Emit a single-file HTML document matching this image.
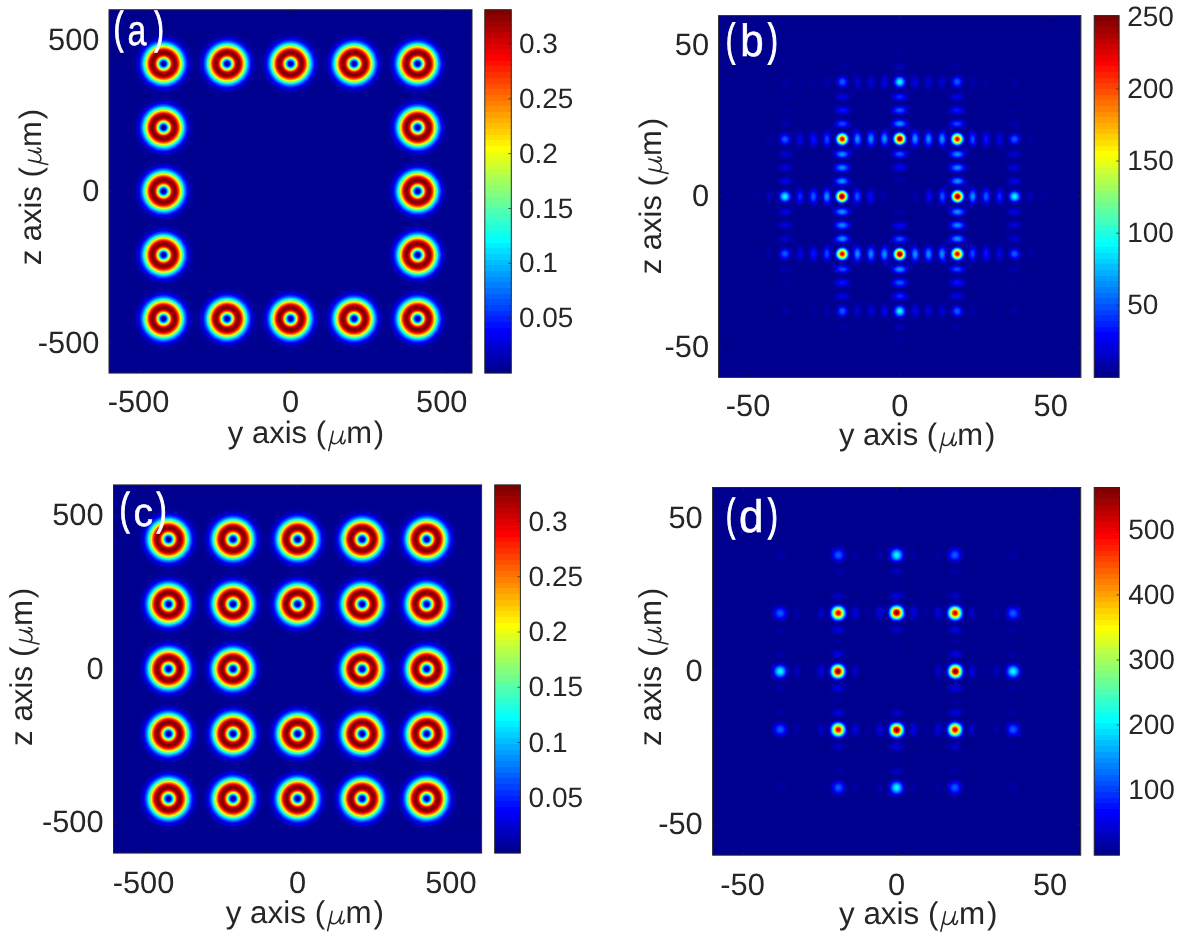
<!DOCTYPE html><html><head><meta charset="utf-8"><title>fig</title><style>html,body{margin:0;padding:0;background:#fff}svg{display:block;will-change:transform}text{text-rendering:geometricPrecision}</style></head><body><svg width="1179" height="938" viewBox="0 0 1179 938"><defs><filter id="jet" x="0" y="0" width="1" height="1" color-interpolation-filters="sRGB"><feComponentTransfer><feFuncR type="table" tableValues="0.0000 0.0000 0.0000 0.0000 0.0000 0.0000 0.0000 0.0000 0.0000 0.0000 0.0000 0.0000 0.0000 0.0000 0.0000 0.0000 0.0000 0.0000 0.0000 0.0000 0.0000 0.0000 0.0000 0.0000 0.0312 0.0938 0.1562 0.2188 0.2812 0.3438 0.4062 0.4688 0.5312 0.5938 0.6562 0.7188 0.7812 0.8438 0.9062 0.9688 1.0000 1.0000 1.0000 1.0000 1.0000 1.0000 1.0000 1.0000 1.0000 1.0000 1.0000 1.0000 1.0000 1.0000 1.0000 1.0000 0.9688 0.9062 0.8438 0.7812 0.7188 0.6562 0.5938 0.5312 0.5000"/><feFuncG type="table" tableValues="0.0000 0.0000 0.0000 0.0000 0.0000 0.0000 0.0000 0.0000 0.0312 0.0938 0.1562 0.2188 0.2812 0.3438 0.4062 0.4688 0.5312 0.5938 0.6562 0.7188 0.7812 0.8438 0.9062 0.9688 1.0000 1.0000 1.0000 1.0000 1.0000 1.0000 1.0000 1.0000 1.0000 1.0000 1.0000 1.0000 1.0000 1.0000 1.0000 1.0000 0.9688 0.9062 0.8438 0.7812 0.7188 0.6562 0.5938 0.5312 0.4688 0.4062 0.3438 0.2812 0.2188 0.1562 0.0938 0.0312 0.0000 0.0000 0.0000 0.0000 0.0000 0.0000 0.0000 0.0000 0.0000"/><feFuncB type="table" tableValues="0.5625 0.5938 0.6562 0.7188 0.7812 0.8438 0.9062 0.9688 1.0000 1.0000 1.0000 1.0000 1.0000 1.0000 1.0000 1.0000 1.0000 1.0000 1.0000 1.0000 1.0000 1.0000 1.0000 1.0000 0.9688 0.9062 0.8438 0.7812 0.7188 0.6562 0.5938 0.5312 0.4688 0.4062 0.3438 0.2812 0.2188 0.1562 0.0938 0.0312 0.0000 0.0000 0.0000 0.0000 0.0000 0.0000 0.0000 0.0000 0.0000 0.0000 0.0000 0.0000 0.0000 0.0000 0.0000 0.0000 0.0000 0.0000 0.0000 0.0000 0.0000 0.0000 0.0000 0.0000 0.0000"/></feComponentTransfer></filter><radialGradient id="dn"><stop offset="0.0000" stop-color="#fff" stop-opacity="0.0000"/><stop offset="0.0208" stop-color="#fff" stop-opacity="0.0113"/><stop offset="0.0417" stop-color="#fff" stop-opacity="0.0446"/><stop offset="0.0625" stop-color="#fff" stop-opacity="0.0983"/><stop offset="0.0833" stop-color="#fff" stop-opacity="0.1697"/><stop offset="0.1042" stop-color="#fff" stop-opacity="0.2554"/><stop offset="0.1250" stop-color="#fff" stop-opacity="0.3513"/><stop offset="0.1458" stop-color="#fff" stop-opacity="0.4529"/><stop offset="0.1667" stop-color="#fff" stop-opacity="0.5556"/><stop offset="0.1875" stop-color="#fff" stop-opacity="0.6551"/><stop offset="0.2083" stop-color="#fff" stop-opacity="0.7471"/><stop offset="0.2292" stop-color="#fff" stop-opacity="0.8282"/><stop offset="0.2500" stop-color="#fff" stop-opacity="0.8955"/><stop offset="0.2708" stop-color="#fff" stop-opacity="0.9469"/><stop offset="0.2917" stop-color="#fff" stop-opacity="0.9812"/><stop offset="0.3125" stop-color="#fff" stop-opacity="0.9980"/><stop offset="0.3333" stop-color="#fff" stop-opacity="0.9978"/><stop offset="0.3542" stop-color="#fff" stop-opacity="0.9816"/><stop offset="0.3750" stop-color="#fff" stop-opacity="0.9510"/><stop offset="0.3958" stop-color="#fff" stop-opacity="0.9081"/><stop offset="0.4167" stop-color="#fff" stop-opacity="0.8551"/><stop offset="0.4375" stop-color="#fff" stop-opacity="0.7946"/><stop offset="0.4583" stop-color="#fff" stop-opacity="0.7289"/><stop offset="0.4792" stop-color="#fff" stop-opacity="0.6603"/><stop offset="0.5000" stop-color="#fff" stop-opacity="0.5910"/><stop offset="0.5208" stop-color="#fff" stop-opacity="0.5227"/><stop offset="0.5417" stop-color="#fff" stop-opacity="0.4570"/><stop offset="0.5625" stop-color="#fff" stop-opacity="0.3951"/><stop offset="0.5833" stop-color="#fff" stop-opacity="0.3378"/><stop offset="0.6042" stop-color="#fff" stop-opacity="0.2857"/><stop offset="0.6250" stop-color="#fff" stop-opacity="0.2390"/><stop offset="0.6458" stop-color="#fff" stop-opacity="0.1979"/><stop offset="0.6667" stop-color="#fff" stop-opacity="0.1621"/><stop offset="0.6875" stop-color="#fff" stop-opacity="0.1315"/><stop offset="0.7083" stop-color="#fff" stop-opacity="0.1056"/><stop offset="0.7292" stop-color="#fff" stop-opacity="0.0839"/><stop offset="0.7500" stop-color="#fff" stop-opacity="0.0660"/><stop offset="0.7708" stop-color="#fff" stop-opacity="0.0514"/><stop offset="0.7917" stop-color="#fff" stop-opacity="0.0397"/><stop offset="0.8125" stop-color="#fff" stop-opacity="0.0303"/><stop offset="0.8333" stop-color="#fff" stop-opacity="0.0229"/><stop offset="0.8542" stop-color="#fff" stop-opacity="0.0172"/><stop offset="0.8750" stop-color="#fff" stop-opacity="0.0128"/><stop offset="0.8958" stop-color="#fff" stop-opacity="0.0094"/><stop offset="0.9167" stop-color="#fff" stop-opacity="0.0068"/><stop offset="0.9375" stop-color="#fff" stop-opacity="0.0049"/><stop offset="0.9583" stop-color="#fff" stop-opacity="0.0035"/><stop offset="0.9792" stop-color="#fff" stop-opacity="0.0025"/><stop offset="1.0000" stop-color="#fff" stop-opacity="0.0018"/></radialGradient><radialGradient id="sb"><stop offset="0.0000" stop-color="#fff" stop-opacity="1.0000"/><stop offset="0.0625" stop-color="#fff" stop-opacity="0.9872"/><stop offset="0.1250" stop-color="#fff" stop-opacity="0.9496"/><stop offset="0.1875" stop-color="#fff" stop-opacity="0.8896"/><stop offset="0.2500" stop-color="#fff" stop-opacity="0.8106"/><stop offset="0.3125" stop-color="#fff" stop-opacity="0.7173"/><stop offset="0.3750" stop-color="#fff" stop-opacity="0.6150"/><stop offset="0.4375" stop-color="#fff" stop-opacity="0.5092"/><stop offset="0.5000" stop-color="#fff" stop-opacity="0.4053"/><stop offset="0.5625" stop-color="#fff" stop-opacity="0.3080"/><stop offset="0.6250" stop-color="#fff" stop-opacity="0.2214"/><stop offset="0.6875" stop-color="#fff" stop-opacity="0.1482"/><stop offset="0.7500" stop-color="#fff" stop-opacity="0.0901"/><stop offset="0.8125" stop-color="#fff" stop-opacity="0.0474"/><stop offset="0.8750" stop-color="#fff" stop-opacity="0.0194"/><stop offset="0.9375" stop-color="#fff" stop-opacity="0.0044"/><stop offset="1.0000" stop-color="#fff" stop-opacity="0.0000"/></radialGradient><linearGradient id="cb" x1="0" y1="0" x2="0" y2="1"><stop offset="0.00000" stop-color="#800000"/><stop offset="0.01562" stop-color="#800000"/><stop offset="0.01562" stop-color="#8f0000"/><stop offset="0.03125" stop-color="#8f0000"/><stop offset="0.03125" stop-color="#9f0000"/><stop offset="0.04688" stop-color="#9f0000"/><stop offset="0.04688" stop-color="#af0000"/><stop offset="0.06250" stop-color="#af0000"/><stop offset="0.06250" stop-color="#bf0000"/><stop offset="0.07812" stop-color="#bf0000"/><stop offset="0.07812" stop-color="#cf0000"/><stop offset="0.09375" stop-color="#cf0000"/><stop offset="0.09375" stop-color="#df0000"/><stop offset="0.10938" stop-color="#df0000"/><stop offset="0.10938" stop-color="#ef0000"/><stop offset="0.12500" stop-color="#ef0000"/><stop offset="0.12500" stop-color="#ff0000"/><stop offset="0.14062" stop-color="#ff0000"/><stop offset="0.14062" stop-color="#ff1000"/><stop offset="0.15625" stop-color="#ff1000"/><stop offset="0.15625" stop-color="#ff2000"/><stop offset="0.17188" stop-color="#ff2000"/><stop offset="0.17188" stop-color="#ff3000"/><stop offset="0.18750" stop-color="#ff3000"/><stop offset="0.18750" stop-color="#ff4000"/><stop offset="0.20312" stop-color="#ff4000"/><stop offset="0.20312" stop-color="#ff5000"/><stop offset="0.21875" stop-color="#ff5000"/><stop offset="0.21875" stop-color="#ff6000"/><stop offset="0.23438" stop-color="#ff6000"/><stop offset="0.23438" stop-color="#ff7000"/><stop offset="0.25000" stop-color="#ff7000"/><stop offset="0.25000" stop-color="#ff8000"/><stop offset="0.26562" stop-color="#ff8000"/><stop offset="0.26562" stop-color="#ff8f00"/><stop offset="0.28125" stop-color="#ff8f00"/><stop offset="0.28125" stop-color="#ff9f00"/><stop offset="0.29688" stop-color="#ff9f00"/><stop offset="0.29688" stop-color="#ffaf00"/><stop offset="0.31250" stop-color="#ffaf00"/><stop offset="0.31250" stop-color="#ffbf00"/><stop offset="0.32812" stop-color="#ffbf00"/><stop offset="0.32812" stop-color="#ffcf00"/><stop offset="0.34375" stop-color="#ffcf00"/><stop offset="0.34375" stop-color="#ffdf00"/><stop offset="0.35938" stop-color="#ffdf00"/><stop offset="0.35938" stop-color="#ffef00"/><stop offset="0.37500" stop-color="#ffef00"/><stop offset="0.37500" stop-color="#ffff00"/><stop offset="0.39062" stop-color="#ffff00"/><stop offset="0.39062" stop-color="#efff10"/><stop offset="0.40625" stop-color="#efff10"/><stop offset="0.40625" stop-color="#dfff20"/><stop offset="0.42188" stop-color="#dfff20"/><stop offset="0.42188" stop-color="#cfff30"/><stop offset="0.43750" stop-color="#cfff30"/><stop offset="0.43750" stop-color="#bfff40"/><stop offset="0.45312" stop-color="#bfff40"/><stop offset="0.45312" stop-color="#afff50"/><stop offset="0.46875" stop-color="#afff50"/><stop offset="0.46875" stop-color="#9fff60"/><stop offset="0.48438" stop-color="#9fff60"/><stop offset="0.48438" stop-color="#8fff70"/><stop offset="0.50000" stop-color="#8fff70"/><stop offset="0.50000" stop-color="#80ff80"/><stop offset="0.51562" stop-color="#80ff80"/><stop offset="0.51562" stop-color="#70ff8f"/><stop offset="0.53125" stop-color="#70ff8f"/><stop offset="0.53125" stop-color="#60ff9f"/><stop offset="0.54688" stop-color="#60ff9f"/><stop offset="0.54688" stop-color="#50ffaf"/><stop offset="0.56250" stop-color="#50ffaf"/><stop offset="0.56250" stop-color="#40ffbf"/><stop offset="0.57812" stop-color="#40ffbf"/><stop offset="0.57812" stop-color="#30ffcf"/><stop offset="0.59375" stop-color="#30ffcf"/><stop offset="0.59375" stop-color="#20ffdf"/><stop offset="0.60938" stop-color="#20ffdf"/><stop offset="0.60938" stop-color="#10ffef"/><stop offset="0.62500" stop-color="#10ffef"/><stop offset="0.62500" stop-color="#00ffff"/><stop offset="0.64062" stop-color="#00ffff"/><stop offset="0.64062" stop-color="#00efff"/><stop offset="0.65625" stop-color="#00efff"/><stop offset="0.65625" stop-color="#00dfff"/><stop offset="0.67188" stop-color="#00dfff"/><stop offset="0.67188" stop-color="#00cfff"/><stop offset="0.68750" stop-color="#00cfff"/><stop offset="0.68750" stop-color="#00bfff"/><stop offset="0.70312" stop-color="#00bfff"/><stop offset="0.70312" stop-color="#00afff"/><stop offset="0.71875" stop-color="#00afff"/><stop offset="0.71875" stop-color="#009fff"/><stop offset="0.73438" stop-color="#009fff"/><stop offset="0.73438" stop-color="#008fff"/><stop offset="0.75000" stop-color="#008fff"/><stop offset="0.75000" stop-color="#0080ff"/><stop offset="0.76562" stop-color="#0080ff"/><stop offset="0.76562" stop-color="#0070ff"/><stop offset="0.78125" stop-color="#0070ff"/><stop offset="0.78125" stop-color="#0060ff"/><stop offset="0.79688" stop-color="#0060ff"/><stop offset="0.79688" stop-color="#0050ff"/><stop offset="0.81250" stop-color="#0050ff"/><stop offset="0.81250" stop-color="#0040ff"/><stop offset="0.82812" stop-color="#0040ff"/><stop offset="0.82812" stop-color="#0030ff"/><stop offset="0.84375" stop-color="#0030ff"/><stop offset="0.84375" stop-color="#0020ff"/><stop offset="0.85938" stop-color="#0020ff"/><stop offset="0.85938" stop-color="#0010ff"/><stop offset="0.87500" stop-color="#0010ff"/><stop offset="0.87500" stop-color="#0000ff"/><stop offset="0.89062" stop-color="#0000ff"/><stop offset="0.89062" stop-color="#0000ef"/><stop offset="0.90625" stop-color="#0000ef"/><stop offset="0.90625" stop-color="#0000df"/><stop offset="0.92188" stop-color="#0000df"/><stop offset="0.92188" stop-color="#0000cf"/><stop offset="0.93750" stop-color="#0000cf"/><stop offset="0.93750" stop-color="#0000bf"/><stop offset="0.95312" stop-color="#0000bf"/><stop offset="0.95312" stop-color="#0000af"/><stop offset="0.96875" stop-color="#0000af"/><stop offset="0.96875" stop-color="#00009f"/><stop offset="0.98438" stop-color="#00009f"/><stop offset="0.98438" stop-color="#00008f"/><stop offset="1.00000" stop-color="#00008f"/></linearGradient><clipPath id="cla"><rect x="109" y="9.7" width="363" height="363.4"/></clipPath><clipPath id="clb"><rect x="718.6" y="15.6" width="362.3" height="361.8"/></clipPath><clipPath id="clc"><rect x="113.5" y="484.9" width="368.1" height="368.2"/></clipPath><clipPath id="cld"><rect x="712.6" y="487.5" width="368.1" height="367.7"/></clipPath></defs><rect width="1179" height="938" fill="#fff"/><g filter="url(#jet)"><g clip-path="url(#cla)"><rect x="109" y="9.7" width="363" height="363.4" fill="#000"/><circle cx="163.54" cy="63.72" r="34.6" fill="url(#dn)"/><circle cx="163.54" cy="127.47" r="34.6" fill="url(#dn)"/><circle cx="163.54" cy="191.22" r="34.6" fill="url(#dn)"/><circle cx="163.54" cy="254.97" r="34.6" fill="url(#dn)"/><circle cx="163.54" cy="318.72" r="34.6" fill="url(#dn)"/><circle cx="227.06" cy="63.72" r="34.6" fill="url(#dn)"/><circle cx="227.06" cy="318.72" r="34.6" fill="url(#dn)"/><circle cx="290.58" cy="63.72" r="34.6" fill="url(#dn)"/><circle cx="290.58" cy="318.72" r="34.6" fill="url(#dn)"/><circle cx="354.1" cy="63.72" r="34.6" fill="url(#dn)"/><circle cx="354.1" cy="318.72" r="34.6" fill="url(#dn)"/><circle cx="417.62" cy="63.72" r="34.6" fill="url(#dn)"/><circle cx="417.62" cy="127.47" r="34.6" fill="url(#dn)"/><circle cx="417.62" cy="191.22" r="34.6" fill="url(#dn)"/><circle cx="417.62" cy="254.97" r="34.6" fill="url(#dn)"/><circle cx="417.62" cy="318.72" r="34.6" fill="url(#dn)"/></g></g>
<path d="M139.25 373.1v-3.0M139.25 9.7v3.0M109 342.82h3.0M472 342.82h-3.0M290.5 373.1v-3.0M290.5 9.7v3.0M109 191.4h3.0M472 191.4h-3.0M441.75 373.1v-3.0M441.75 9.7v3.0M109 39.98h3.0M472 39.98h-3.0" stroke="#262626" stroke-width="1" stroke-opacity="0.6" fill="none"/>
<rect x="109" y="9.7" width="363" height="363.4" fill="none" stroke="#262626" stroke-width="1"/>
<rect x="484.8" y="9.7" width="26.5" height="363.4" fill="url(#cb)" stroke="#262626" stroke-width="1"/>
<text x="518.9" y="327.26" font-family="Liberation Sans, sans-serif" font-size="28.0" fill="#262626">0.05</text>
<text x="518.9" y="272.4" font-family="Liberation Sans, sans-serif" font-size="28.0" fill="#262626">0.1</text>
<text x="518.9" y="217.54" font-family="Liberation Sans, sans-serif" font-size="28.0" fill="#262626">0.15</text>
<text x="518.9" y="162.68" font-family="Liberation Sans, sans-serif" font-size="28.0" fill="#262626">0.2</text>
<text x="518.9" y="107.82" font-family="Liberation Sans, sans-serif" font-size="28.0" fill="#262626">0.25</text>
<text x="518.9" y="52.96" font-family="Liberation Sans, sans-serif" font-size="28.0" fill="#262626">0.3</text>
<path d="M511.3 318.24h-3.0M511.3 263.38h-3.0M511.3 208.52h-3.0M511.3 153.66h-3.0M511.3 98.79h-3.0M511.3 43.93h-3.0" stroke="#262626" stroke-width="1" stroke-opacity="0.7" fill="none"/>
<text x="138.55" y="412.3" text-anchor="middle" font-family="Liberation Sans, sans-serif" font-size="30.8" fill="#262626">-500</text>
<text x="99.4" y="352.54" text-anchor="end" font-family="Liberation Sans, sans-serif" font-size="30.8" fill="#262626">-500</text>
<text x="290.5" y="412.3" text-anchor="middle" font-family="Liberation Sans, sans-serif" font-size="30.8" fill="#262626">0</text>
<text x="99.4" y="201.13" text-anchor="end" font-family="Liberation Sans, sans-serif" font-size="30.8" fill="#262626">0</text>
<text x="441.75" y="412.3" text-anchor="middle" font-family="Liberation Sans, sans-serif" font-size="30.8" fill="#262626">500</text>
<text x="99.4" y="49.71" text-anchor="end" font-family="Liberation Sans, sans-serif" font-size="30.8" fill="#262626">500</text>
<g transform="translate(228.3 443.3)"><text x="-0.5" y="0" font-family="Liberation Sans, sans-serif" font-size="31.0" fill="#262626">y axis (</text><path transform="scale(1)" d="M100.4 7.3L104.9-12.1M104.3-9.2L103.2-4.2C102.5-0.8 104.2 0.4 106.4 0.4C109.4 0.4 111.9-3 113.2-7.2M114.7-12.1L112.6-2.6C112.2-0.4 113.3 0.4 114.4 0.4C115.7 0.4 116.5-1.4 116.9-3.2" fill="none" stroke="#262626" stroke-width="1.5" stroke-linecap="round" stroke-linejoin="round"/><text x="117.9" y="0" font-family="Liberation Sans, sans-serif" font-size="31.0" fill="#262626">m<tspan dx="1.8">)</tspan></text></g>
<g transform="translate(40.5 264.8) rotate(-90)"><text x="-0.5" y="0" font-family="Liberation Sans, sans-serif" font-size="31.0" fill="#262626">z axis (</text><path transform="scale(1)" d="M100.4 7.3L104.9-12.1M104.3-9.2L103.2-4.2C102.5-0.8 104.2 0.4 106.4 0.4C109.4 0.4 111.9-3 113.2-7.2M114.7-12.1L112.6-2.6C112.2-0.4 113.3 0.4 114.4 0.4C115.7 0.4 116.5-1.4 116.9-3.2" fill="none" stroke="#262626" stroke-width="1.5" stroke-linecap="round" stroke-linejoin="round"/><text x="117.9" y="0" font-family="Liberation Sans, sans-serif" font-size="31.0" fill="#262626">m<tspan dx="1.8">)</tspan></text></g>
<text transform="translate(113.85 43.05) scale(0.2872 0.4439)" font-family="Liberation Sans, sans-serif" font-size="100" fill="#fff" stroke="#fff" stroke-width="3.0" text-rendering="geometricPrecision">(</text>
<text transform="translate(127.58 44.61) scale(0.3397 0.4286)" font-family="Liberation Sans, sans-serif" font-size="100" fill="#fff" stroke="#fff" stroke-width="1.2" text-rendering="geometricPrecision">a</text>
<text transform="translate(154.48 43.05) scale(0.2804 0.4439)" font-family="Liberation Sans, sans-serif" font-size="100" fill="#fff" stroke="#fff" stroke-width="3.0" text-rendering="geometricPrecision">)</text>
<g filter="url(#jet)"><g clip-path="url(#clb)"><rect x="718.6" y="15.6" width="362.3" height="361.8" fill="#000"/><ellipse cx="842.45" cy="24.83" rx="9.88" ry="9.77" fill="url(#sb)" fill-opacity="0.008"/><ellipse cx="899.75" cy="24.81" rx="9.88" ry="9.77" fill="url(#sb)" fill-opacity="0.016"/><ellipse cx="957.05" cy="24.83" rx="9.88" ry="9.77" fill="url(#sb)" fill-opacity="0.008"/><ellipse cx="884.51" cy="25.57" rx="7.43" ry="12.93" fill="url(#sb)" fill-opacity="0.004"/><ellipse cx="914.99" cy="25.57" rx="7.43" ry="12.93" fill="url(#sb)" fill-opacity="0.004"/><ellipse cx="842.67" cy="39.61" rx="12.88" ry="7.39" fill="url(#sb)" fill-opacity="0.006"/><ellipse cx="899.75" cy="39.6" rx="12.95" ry="7.39" fill="url(#sb)" fill-opacity="0.011"/><ellipse cx="956.83" cy="39.61" rx="12.88" ry="7.39" fill="url(#sb)" fill-opacity="0.006"/><ellipse cx="842.72" cy="53.06" rx="13.63" ry="7.62" fill="url(#sb)" fill-opacity="0.013"/><ellipse cx="899.75" cy="53.04" rx="13.63" ry="7.62" fill="url(#sb)" fill-opacity="0.024"/><ellipse cx="956.78" cy="53.06" rx="13.63" ry="7.62" fill="url(#sb)" fill-opacity="0.013"/><ellipse cx="842.67" cy="66.44" rx="13.33" ry="7.32" fill="url(#sb)" fill-opacity="0.027"/><ellipse cx="899.75" cy="66.42" rx="13.36" ry="7.28" fill="url(#sb)" fill-opacity="0.051"/><ellipse cx="956.83" cy="66.44" rx="13.33" ry="7.32" fill="url(#sb)" fill-opacity="0.027"/><ellipse cx="785.12" cy="82.03" rx="9.85" ry="9.84" fill="url(#sb)" fill-opacity="0.031"/><ellipse cx="842.4" cy="81.95" rx="9.88" ry="9.84" fill="url(#sb)" fill-opacity="0.210"/><ellipse cx="899.75" cy="81.9" rx="9.95" ry="9.84" fill="url(#sb)" fill-opacity="0.371"/><ellipse cx="957.1" cy="81.95" rx="9.88" ry="9.84" fill="url(#sb)" fill-opacity="0.210"/><ellipse cx="1014.38" cy="82.03" rx="9.85" ry="9.84" fill="url(#sb)" fill-opacity="0.031"/><ellipse cx="857.54" cy="82.34" rx="7.43" ry="13" fill="url(#sb)" fill-opacity="0.073"/><ellipse cx="884.47" cy="82.31" rx="7.4" ry="13.07" fill="url(#sb)" fill-opacity="0.094"/><ellipse cx="915.03" cy="82.31" rx="7.4" ry="13.07" fill="url(#sb)" fill-opacity="0.094"/><ellipse cx="941.96" cy="82.34" rx="7.43" ry="13" fill="url(#sb)" fill-opacity="0.073"/><ellipse cx="800.08" cy="82.47" rx="7.4" ry="12.9" fill="url(#sb)" fill-opacity="0.016"/><ellipse cx="813.56" cy="82.54" rx="7.67" ry="13.51" fill="url(#sb)" fill-opacity="0.025"/><ellipse cx="827" cy="82.45" rx="7.36" ry="13.14" fill="url(#sb)" fill-opacity="0.039"/><ellipse cx="871.01" cy="82.4" rx="7.7" ry="13.55" fill="url(#sb)" fill-opacity="0.082"/><ellipse cx="928.49" cy="82.4" rx="7.7" ry="13.55" fill="url(#sb)" fill-opacity="0.082"/><ellipse cx="972.5" cy="82.45" rx="7.36" ry="13.14" fill="url(#sb)" fill-opacity="0.039"/><ellipse cx="985.94" cy="82.54" rx="7.67" ry="13.51" fill="url(#sb)" fill-opacity="0.025"/><ellipse cx="999.42" cy="82.47" rx="7.4" ry="12.9" fill="url(#sb)" fill-opacity="0.016"/><ellipse cx="785.56" cy="96.97" rx="12.92" ry="7.39" fill="url(#sb)" fill-opacity="0.016"/><ellipse cx="842.57" cy="96.92" rx="13.02" ry="7.42" fill="url(#sb)" fill-opacity="0.097"/><ellipse cx="899.75" cy="96.88" rx="13.09" ry="7.39" fill="url(#sb)" fill-opacity="0.160"/><ellipse cx="956.93" cy="96.92" rx="13.02" ry="7.42" fill="url(#sb)" fill-opacity="0.097"/><ellipse cx="1013.94" cy="96.97" rx="12.92" ry="7.39" fill="url(#sb)" fill-opacity="0.016"/><ellipse cx="882.44" cy="98.95" rx="6.44" ry="6.47" fill="url(#sb)" fill-opacity="0.005"/><ellipse cx="917.06" cy="98.95" rx="6.44" ry="6.47" fill="url(#sb)" fill-opacity="0.005"/><ellipse cx="842.55" cy="110.36" rx="13.63" ry="7.66" fill="url(#sb)" fill-opacity="0.136"/><ellipse cx="899.75" cy="110.29" rx="13.7" ry="7.66" fill="url(#sb)" fill-opacity="0.208"/><ellipse cx="956.95" cy="110.36" rx="13.63" ry="7.66" fill="url(#sb)" fill-opacity="0.136"/><ellipse cx="785.63" cy="110.43" rx="13.53" ry="7.66" fill="url(#sb)" fill-opacity="0.025"/><ellipse cx="1013.87" cy="110.43" rx="13.53" ry="7.66" fill="url(#sb)" fill-opacity="0.025"/><ellipse cx="859.62" cy="121.65" rx="6.48" ry="6.4" fill="url(#sb)" fill-opacity="0.006"/><ellipse cx="882.31" cy="121.58" rx="6.44" ry="6.43" fill="url(#sb)" fill-opacity="0.007"/><ellipse cx="917.19" cy="121.58" rx="6.44" ry="6.43" fill="url(#sb)" fill-opacity="0.007"/><ellipse cx="939.88" cy="121.65" rx="6.48" ry="6.4" fill="url(#sb)" fill-opacity="0.006"/><ellipse cx="899.75" cy="123.66" rx="13.22" ry="7.39" fill="url(#sb)" fill-opacity="0.261"/><ellipse cx="785.54" cy="123.85" rx="13.16" ry="7.35" fill="url(#sb)" fill-opacity="0.039"/><ellipse cx="842.46" cy="123.76" rx="13.19" ry="7.35" fill="url(#sb)" fill-opacity="0.191"/><ellipse cx="957.04" cy="123.76" rx="13.19" ry="7.35" fill="url(#sb)" fill-opacity="0.191"/><ellipse cx="1013.96" cy="123.85" rx="13.16" ry="7.35" fill="url(#sb)" fill-opacity="0.039"/><ellipse cx="857.45" cy="139.04" rx="7.4" ry="13.1" fill="url(#sb)" fill-opacity="0.263"/><ellipse cx="870.92" cy="138.91" rx="7.7" ry="13.55" fill="url(#sb)" fill-opacity="0.256"/><ellipse cx="884.4" cy="138.79" rx="7.43" ry="13.04" fill="url(#sb)" fill-opacity="0.266"/><ellipse cx="899.75" cy="138.81" rx="9.95" ry="9.87" fill="url(#sb)" fill-opacity="1.000"/><ellipse cx="915.1" cy="138.79" rx="7.43" ry="13.04" fill="url(#sb)" fill-opacity="0.266"/><ellipse cx="928.58" cy="138.91" rx="7.7" ry="13.55" fill="url(#sb)" fill-opacity="0.256"/><ellipse cx="942.05" cy="139.04" rx="7.4" ry="13.1" fill="url(#sb)" fill-opacity="0.263"/><ellipse cx="727.84" cy="139.28" rx="9.78" ry="9.87" fill="url(#sb)" fill-opacity="0.008"/><ellipse cx="785.04" cy="139.23" rx="9.85" ry="9.87" fill="url(#sb)" fill-opacity="0.210"/><ellipse cx="826.91" cy="139.29" rx="7.36" ry="13.17" fill="url(#sb)" fill-opacity="0.191"/><ellipse cx="842.24" cy="139.07" rx="9.92" ry="9.9" fill="url(#sb)" fill-opacity="0.903"/><ellipse cx="957.26" cy="139.07" rx="9.92" ry="9.9" fill="url(#sb)" fill-opacity="0.903"/><ellipse cx="972.59" cy="139.29" rx="7.36" ry="13.17" fill="url(#sb)" fill-opacity="0.191"/><ellipse cx="1014.46" cy="139.23" rx="9.85" ry="9.87" fill="url(#sb)" fill-opacity="0.210"/><ellipse cx="1071.66" cy="139.28" rx="9.78" ry="9.87" fill="url(#sb)" fill-opacity="0.008"/><ellipse cx="742.64" cy="139.5" rx="7.4" ry="12.87" fill="url(#sb)" fill-opacity="0.006"/><ellipse cx="756.11" cy="139.55" rx="7.63" ry="13.61" fill="url(#sb)" fill-opacity="0.013"/><ellipse cx="769.51" cy="139.5" rx="7.33" ry="13.31" fill="url(#sb)" fill-opacity="0.027"/><ellipse cx="800.04" cy="139.39" rx="7.43" ry="13" fill="url(#sb)" fill-opacity="0.097"/><ellipse cx="813.49" cy="139.38" rx="7.67" ry="13.61" fill="url(#sb)" fill-opacity="0.136"/><ellipse cx="986.01" cy="139.38" rx="7.67" ry="13.61" fill="url(#sb)" fill-opacity="0.136"/><ellipse cx="999.46" cy="139.39" rx="7.43" ry="13" fill="url(#sb)" fill-opacity="0.097"/><ellipse cx="1029.99" cy="139.5" rx="7.33" ry="13.31" fill="url(#sb)" fill-opacity="0.027"/><ellipse cx="1043.39" cy="139.55" rx="7.63" ry="13.61" fill="url(#sb)" fill-opacity="0.013"/><ellipse cx="1056.86" cy="139.5" rx="7.4" ry="12.87" fill="url(#sb)" fill-opacity="0.006"/><ellipse cx="899.75" cy="154" rx="13.43" ry="7.32" fill="url(#sb)" fill-opacity="0.205"/><ellipse cx="785.44" cy="154.34" rx="13.02" ry="7.42" fill="url(#sb)" fill-opacity="0.073"/><ellipse cx="842.21" cy="154.26" rx="13.12" ry="7.39" fill="url(#sb)" fill-opacity="0.263"/><ellipse cx="957.29" cy="154.26" rx="13.12" ry="7.39" fill="url(#sb)" fill-opacity="0.263"/><ellipse cx="1014.06" cy="154.34" rx="13.02" ry="7.42" fill="url(#sb)" fill-opacity="0.073"/><ellipse cx="882.18" cy="156.12" rx="6.48" ry="6.4" fill="url(#sb)" fill-opacity="0.006"/><ellipse cx="917.32" cy="156.12" rx="6.48" ry="6.4" fill="url(#sb)" fill-opacity="0.006"/><ellipse cx="824.8" cy="156.42" rx="6.41" ry="6.47" fill="url(#sb)" fill-opacity="0.006"/><ellipse cx="859.49" cy="156.29" rx="6.44" ry="6.43" fill="url(#sb)" fill-opacity="0.007"/><ellipse cx="940.01" cy="156.29" rx="6.44" ry="6.43" fill="url(#sb)" fill-opacity="0.007"/><ellipse cx="974.7" cy="156.42" rx="6.41" ry="6.47" fill="url(#sb)" fill-opacity="0.006"/><ellipse cx="899.75" cy="167.2" rx="14.04" ry="7.59" fill="url(#sb)" fill-opacity="0.115"/><ellipse cx="842.08" cy="167.71" rx="13.57" ry="7.69" fill="url(#sb)" fill-opacity="0.256"/><ellipse cx="957.42" cy="167.71" rx="13.57" ry="7.69" fill="url(#sb)" fill-opacity="0.256"/><ellipse cx="785.49" cy="167.8" rx="13.57" ry="7.69" fill="url(#sb)" fill-opacity="0.082"/><ellipse cx="1014.01" cy="167.8" rx="13.57" ry="7.69" fill="url(#sb)" fill-opacity="0.082"/><ellipse cx="824.73" cy="179.08" rx="6.44" ry="6.43" fill="url(#sb)" fill-opacity="0.007"/><ellipse cx="859.31" cy="178.96" rx="6.41" ry="6.47" fill="url(#sb)" fill-opacity="0.006"/><ellipse cx="940.19" cy="178.96" rx="6.41" ry="6.47" fill="url(#sb)" fill-opacity="0.006"/><ellipse cx="974.77" cy="179.08" rx="6.44" ry="6.43" fill="url(#sb)" fill-opacity="0.007"/><ellipse cx="802.07" cy="179.21" rx="6.48" ry="6.43" fill="url(#sb)" fill-opacity="0.005"/><ellipse cx="997.43" cy="179.21" rx="6.48" ry="6.43" fill="url(#sb)" fill-opacity="0.005"/><ellipse cx="899.75" cy="180.19" rx="13.77" ry="7.11" fill="url(#sb)" fill-opacity="0.041"/><ellipse cx="785.4" cy="181.24" rx="13.09" ry="7.39" fill="url(#sb)" fill-opacity="0.094"/><ellipse cx="841.96" cy="181.17" rx="13.05" ry="7.42" fill="url(#sb)" fill-opacity="0.266"/><ellipse cx="957.54" cy="181.17" rx="13.05" ry="7.42" fill="url(#sb)" fill-opacity="0.266"/><ellipse cx="1014.1" cy="181.24" rx="13.09" ry="7.39" fill="url(#sb)" fill-opacity="0.094"/><ellipse cx="728.58" cy="181.28" rx="12.95" ry="7.42" fill="url(#sb)" fill-opacity="0.004"/><ellipse cx="1070.92" cy="181.28" rx="12.95" ry="7.42" fill="url(#sb)" fill-opacity="0.004"/><ellipse cx="896.19" cy="192.95" rx="6.68" ry="6.67" fill="url(#sb)" fill-opacity="0.007"/><ellipse cx="903.31" cy="192.95" rx="6.68" ry="6.67" fill="url(#sb)" fill-opacity="0.007"/><ellipse cx="727.82" cy="196.5" rx="9.78" ry="9.87" fill="url(#sb)" fill-opacity="0.016"/><ellipse cx="742.63" cy="196.5" rx="7.4" ry="12.93" fill="url(#sb)" fill-opacity="0.011"/><ellipse cx="756.1" cy="196.5" rx="7.63" ry="13.61" fill="url(#sb)" fill-opacity="0.024"/><ellipse cx="769.49" cy="196.5" rx="7.29" ry="13.34" fill="url(#sb)" fill-opacity="0.051"/><ellipse cx="784.99" cy="196.5" rx="9.85" ry="9.94" fill="url(#sb)" fill-opacity="0.371"/><ellipse cx="800" cy="196.5" rx="7.4" ry="13.07" fill="url(#sb)" fill-opacity="0.160"/><ellipse cx="813.42" cy="196.5" rx="7.67" ry="13.68" fill="url(#sb)" fill-opacity="0.208"/><ellipse cx="826.81" cy="196.5" rx="7.4" ry="13.21" fill="url(#sb)" fill-opacity="0.261"/><ellipse cx="841.98" cy="196.5" rx="9.88" ry="9.94" fill="url(#sb)" fill-opacity="1.000"/><ellipse cx="857.19" cy="196.5" rx="7.33" ry="13.41" fill="url(#sb)" fill-opacity="0.205"/><ellipse cx="870.41" cy="196.5" rx="7.6" ry="14.02" fill="url(#sb)" fill-opacity="0.115"/><ellipse cx="883.42" cy="196.5" rx="7.12" ry="13.75" fill="url(#sb)" fill-opacity="0.041"/><ellipse cx="916.08" cy="196.5" rx="7.12" ry="13.75" fill="url(#sb)" fill-opacity="0.041"/><ellipse cx="929.09" cy="196.5" rx="7.6" ry="14.02" fill="url(#sb)" fill-opacity="0.115"/><ellipse cx="942.31" cy="196.5" rx="7.33" ry="13.41" fill="url(#sb)" fill-opacity="0.205"/><ellipse cx="957.52" cy="196.5" rx="9.88" ry="9.94" fill="url(#sb)" fill-opacity="1.000"/><ellipse cx="972.69" cy="196.5" rx="7.4" ry="13.21" fill="url(#sb)" fill-opacity="0.261"/><ellipse cx="986.08" cy="196.5" rx="7.67" ry="13.68" fill="url(#sb)" fill-opacity="0.208"/><ellipse cx="999.5" cy="196.5" rx="7.4" ry="13.07" fill="url(#sb)" fill-opacity="0.160"/><ellipse cx="1014.51" cy="196.5" rx="9.85" ry="9.94" fill="url(#sb)" fill-opacity="0.371"/><ellipse cx="1030.01" cy="196.5" rx="7.29" ry="13.34" fill="url(#sb)" fill-opacity="0.051"/><ellipse cx="1043.4" cy="196.5" rx="7.63" ry="13.61" fill="url(#sb)" fill-opacity="0.024"/><ellipse cx="1056.87" cy="196.5" rx="7.4" ry="12.93" fill="url(#sb)" fill-opacity="0.011"/><ellipse cx="1071.68" cy="196.5" rx="9.78" ry="9.87" fill="url(#sb)" fill-opacity="0.016"/><ellipse cx="896.19" cy="200.05" rx="6.68" ry="6.67" fill="url(#sb)" fill-opacity="0.007"/><ellipse cx="903.31" cy="200.05" rx="6.68" ry="6.67" fill="url(#sb)" fill-opacity="0.007"/><ellipse cx="728.58" cy="211.72" rx="12.95" ry="7.42" fill="url(#sb)" fill-opacity="0.004"/><ellipse cx="1070.92" cy="211.72" rx="12.95" ry="7.42" fill="url(#sb)" fill-opacity="0.004"/><ellipse cx="785.4" cy="211.76" rx="13.09" ry="7.39" fill="url(#sb)" fill-opacity="0.094"/><ellipse cx="841.96" cy="211.83" rx="13.05" ry="7.42" fill="url(#sb)" fill-opacity="0.266"/><ellipse cx="957.54" cy="211.83" rx="13.05" ry="7.42" fill="url(#sb)" fill-opacity="0.266"/><ellipse cx="1014.1" cy="211.76" rx="13.09" ry="7.39" fill="url(#sb)" fill-opacity="0.094"/><ellipse cx="899.75" cy="212.81" rx="13.77" ry="7.11" fill="url(#sb)" fill-opacity="0.041"/><ellipse cx="802.07" cy="213.79" rx="6.48" ry="6.43" fill="url(#sb)" fill-opacity="0.005"/><ellipse cx="997.43" cy="213.79" rx="6.48" ry="6.43" fill="url(#sb)" fill-opacity="0.005"/><ellipse cx="824.73" cy="213.92" rx="6.44" ry="6.43" fill="url(#sb)" fill-opacity="0.007"/><ellipse cx="859.31" cy="214.04" rx="6.41" ry="6.47" fill="url(#sb)" fill-opacity="0.006"/><ellipse cx="940.19" cy="214.04" rx="6.41" ry="6.47" fill="url(#sb)" fill-opacity="0.006"/><ellipse cx="974.77" cy="213.92" rx="6.44" ry="6.43" fill="url(#sb)" fill-opacity="0.007"/><ellipse cx="785.49" cy="225.2" rx="13.57" ry="7.69" fill="url(#sb)" fill-opacity="0.082"/><ellipse cx="1014.01" cy="225.2" rx="13.57" ry="7.69" fill="url(#sb)" fill-opacity="0.082"/><ellipse cx="842.08" cy="225.29" rx="13.57" ry="7.69" fill="url(#sb)" fill-opacity="0.256"/><ellipse cx="957.42" cy="225.29" rx="13.57" ry="7.69" fill="url(#sb)" fill-opacity="0.256"/><ellipse cx="899.75" cy="225.8" rx="14.04" ry="7.59" fill="url(#sb)" fill-opacity="0.115"/><ellipse cx="824.8" cy="236.58" rx="6.41" ry="6.47" fill="url(#sb)" fill-opacity="0.006"/><ellipse cx="859.49" cy="236.71" rx="6.44" ry="6.43" fill="url(#sb)" fill-opacity="0.007"/><ellipse cx="940.01" cy="236.71" rx="6.44" ry="6.43" fill="url(#sb)" fill-opacity="0.007"/><ellipse cx="974.7" cy="236.58" rx="6.41" ry="6.47" fill="url(#sb)" fill-opacity="0.006"/><ellipse cx="882.18" cy="236.88" rx="6.48" ry="6.4" fill="url(#sb)" fill-opacity="0.006"/><ellipse cx="917.32" cy="236.88" rx="6.48" ry="6.4" fill="url(#sb)" fill-opacity="0.006"/><ellipse cx="785.44" cy="238.66" rx="13.02" ry="7.42" fill="url(#sb)" fill-opacity="0.073"/><ellipse cx="842.21" cy="238.74" rx="13.12" ry="7.39" fill="url(#sb)" fill-opacity="0.263"/><ellipse cx="957.29" cy="238.74" rx="13.12" ry="7.39" fill="url(#sb)" fill-opacity="0.263"/><ellipse cx="1014.06" cy="238.66" rx="13.02" ry="7.42" fill="url(#sb)" fill-opacity="0.073"/><ellipse cx="899.75" cy="239" rx="13.43" ry="7.32" fill="url(#sb)" fill-opacity="0.205"/><ellipse cx="742.64" cy="253.5" rx="7.4" ry="12.87" fill="url(#sb)" fill-opacity="0.006"/><ellipse cx="756.11" cy="253.45" rx="7.63" ry="13.61" fill="url(#sb)" fill-opacity="0.013"/><ellipse cx="769.51" cy="253.5" rx="7.33" ry="13.31" fill="url(#sb)" fill-opacity="0.027"/><ellipse cx="800.04" cy="253.61" rx="7.43" ry="13" fill="url(#sb)" fill-opacity="0.097"/><ellipse cx="813.49" cy="253.62" rx="7.67" ry="13.61" fill="url(#sb)" fill-opacity="0.136"/><ellipse cx="986.01" cy="253.62" rx="7.67" ry="13.61" fill="url(#sb)" fill-opacity="0.136"/><ellipse cx="999.46" cy="253.61" rx="7.43" ry="13" fill="url(#sb)" fill-opacity="0.097"/><ellipse cx="1029.99" cy="253.5" rx="7.33" ry="13.31" fill="url(#sb)" fill-opacity="0.027"/><ellipse cx="1043.39" cy="253.45" rx="7.63" ry="13.61" fill="url(#sb)" fill-opacity="0.013"/><ellipse cx="1056.86" cy="253.5" rx="7.4" ry="12.87" fill="url(#sb)" fill-opacity="0.006"/><ellipse cx="727.84" cy="253.72" rx="9.78" ry="9.87" fill="url(#sb)" fill-opacity="0.008"/><ellipse cx="785.04" cy="253.77" rx="9.85" ry="9.87" fill="url(#sb)" fill-opacity="0.210"/><ellipse cx="826.91" cy="253.71" rx="7.36" ry="13.17" fill="url(#sb)" fill-opacity="0.191"/><ellipse cx="842.24" cy="253.93" rx="9.92" ry="9.9" fill="url(#sb)" fill-opacity="0.903"/><ellipse cx="957.26" cy="253.93" rx="9.92" ry="9.9" fill="url(#sb)" fill-opacity="0.903"/><ellipse cx="972.59" cy="253.71" rx="7.36" ry="13.17" fill="url(#sb)" fill-opacity="0.191"/><ellipse cx="1014.46" cy="253.77" rx="9.85" ry="9.87" fill="url(#sb)" fill-opacity="0.210"/><ellipse cx="1071.66" cy="253.72" rx="9.78" ry="9.87" fill="url(#sb)" fill-opacity="0.008"/><ellipse cx="857.45" cy="253.96" rx="7.4" ry="13.1" fill="url(#sb)" fill-opacity="0.263"/><ellipse cx="870.92" cy="254.09" rx="7.7" ry="13.55" fill="url(#sb)" fill-opacity="0.256"/><ellipse cx="884.4" cy="254.21" rx="7.43" ry="13.04" fill="url(#sb)" fill-opacity="0.266"/><ellipse cx="899.75" cy="254.19" rx="9.95" ry="9.87" fill="url(#sb)" fill-opacity="1.000"/><ellipse cx="915.1" cy="254.21" rx="7.43" ry="13.04" fill="url(#sb)" fill-opacity="0.266"/><ellipse cx="928.58" cy="254.09" rx="7.7" ry="13.55" fill="url(#sb)" fill-opacity="0.256"/><ellipse cx="942.05" cy="253.96" rx="7.4" ry="13.1" fill="url(#sb)" fill-opacity="0.263"/><ellipse cx="785.54" cy="269.15" rx="13.16" ry="7.35" fill="url(#sb)" fill-opacity="0.039"/><ellipse cx="842.46" cy="269.24" rx="13.19" ry="7.35" fill="url(#sb)" fill-opacity="0.191"/><ellipse cx="957.04" cy="269.24" rx="13.19" ry="7.35" fill="url(#sb)" fill-opacity="0.191"/><ellipse cx="1013.96" cy="269.15" rx="13.16" ry="7.35" fill="url(#sb)" fill-opacity="0.039"/><ellipse cx="899.75" cy="269.34" rx="13.22" ry="7.39" fill="url(#sb)" fill-opacity="0.261"/><ellipse cx="859.62" cy="271.35" rx="6.48" ry="6.4" fill="url(#sb)" fill-opacity="0.006"/><ellipse cx="882.31" cy="271.42" rx="6.44" ry="6.43" fill="url(#sb)" fill-opacity="0.007"/><ellipse cx="917.19" cy="271.42" rx="6.44" ry="6.43" fill="url(#sb)" fill-opacity="0.007"/><ellipse cx="939.88" cy="271.35" rx="6.48" ry="6.4" fill="url(#sb)" fill-opacity="0.006"/><ellipse cx="785.63" cy="282.57" rx="13.53" ry="7.66" fill="url(#sb)" fill-opacity="0.025"/><ellipse cx="1013.87" cy="282.57" rx="13.53" ry="7.66" fill="url(#sb)" fill-opacity="0.025"/><ellipse cx="842.55" cy="282.64" rx="13.63" ry="7.66" fill="url(#sb)" fill-opacity="0.136"/><ellipse cx="899.75" cy="282.71" rx="13.7" ry="7.66" fill="url(#sb)" fill-opacity="0.208"/><ellipse cx="956.95" cy="282.64" rx="13.63" ry="7.66" fill="url(#sb)" fill-opacity="0.136"/><ellipse cx="882.44" cy="294.05" rx="6.44" ry="6.47" fill="url(#sb)" fill-opacity="0.005"/><ellipse cx="917.06" cy="294.05" rx="6.44" ry="6.47" fill="url(#sb)" fill-opacity="0.005"/><ellipse cx="785.56" cy="296.03" rx="12.92" ry="7.39" fill="url(#sb)" fill-opacity="0.016"/><ellipse cx="842.57" cy="296.08" rx="13.02" ry="7.42" fill="url(#sb)" fill-opacity="0.097"/><ellipse cx="899.75" cy="296.12" rx="13.09" ry="7.39" fill="url(#sb)" fill-opacity="0.160"/><ellipse cx="956.93" cy="296.08" rx="13.02" ry="7.42" fill="url(#sb)" fill-opacity="0.097"/><ellipse cx="1013.94" cy="296.03" rx="12.92" ry="7.39" fill="url(#sb)" fill-opacity="0.016"/><ellipse cx="800.08" cy="310.53" rx="7.4" ry="12.9" fill="url(#sb)" fill-opacity="0.016"/><ellipse cx="813.56" cy="310.46" rx="7.67" ry="13.51" fill="url(#sb)" fill-opacity="0.025"/><ellipse cx="827" cy="310.55" rx="7.36" ry="13.14" fill="url(#sb)" fill-opacity="0.039"/><ellipse cx="871.01" cy="310.6" rx="7.7" ry="13.55" fill="url(#sb)" fill-opacity="0.082"/><ellipse cx="928.49" cy="310.6" rx="7.7" ry="13.55" fill="url(#sb)" fill-opacity="0.082"/><ellipse cx="972.5" cy="310.55" rx="7.36" ry="13.14" fill="url(#sb)" fill-opacity="0.039"/><ellipse cx="985.94" cy="310.46" rx="7.67" ry="13.51" fill="url(#sb)" fill-opacity="0.025"/><ellipse cx="999.42" cy="310.53" rx="7.4" ry="12.9" fill="url(#sb)" fill-opacity="0.016"/><ellipse cx="857.54" cy="310.66" rx="7.43" ry="13" fill="url(#sb)" fill-opacity="0.073"/><ellipse cx="884.47" cy="310.69" rx="7.4" ry="13.07" fill="url(#sb)" fill-opacity="0.094"/><ellipse cx="915.03" cy="310.69" rx="7.4" ry="13.07" fill="url(#sb)" fill-opacity="0.094"/><ellipse cx="941.96" cy="310.66" rx="7.43" ry="13" fill="url(#sb)" fill-opacity="0.073"/><ellipse cx="785.12" cy="310.97" rx="9.85" ry="9.84" fill="url(#sb)" fill-opacity="0.031"/><ellipse cx="842.4" cy="311.05" rx="9.88" ry="9.84" fill="url(#sb)" fill-opacity="0.210"/><ellipse cx="899.75" cy="311.1" rx="9.95" ry="9.84" fill="url(#sb)" fill-opacity="0.371"/><ellipse cx="957.1" cy="311.05" rx="9.88" ry="9.84" fill="url(#sb)" fill-opacity="0.210"/><ellipse cx="1014.38" cy="310.97" rx="9.85" ry="9.84" fill="url(#sb)" fill-opacity="0.031"/><ellipse cx="842.67" cy="326.56" rx="13.33" ry="7.32" fill="url(#sb)" fill-opacity="0.027"/><ellipse cx="899.75" cy="326.58" rx="13.36" ry="7.28" fill="url(#sb)" fill-opacity="0.051"/><ellipse cx="956.83" cy="326.56" rx="13.33" ry="7.32" fill="url(#sb)" fill-opacity="0.027"/><ellipse cx="842.72" cy="339.94" rx="13.63" ry="7.62" fill="url(#sb)" fill-opacity="0.013"/><ellipse cx="899.75" cy="339.96" rx="13.63" ry="7.62" fill="url(#sb)" fill-opacity="0.024"/><ellipse cx="956.78" cy="339.94" rx="13.63" ry="7.62" fill="url(#sb)" fill-opacity="0.013"/><ellipse cx="842.67" cy="353.39" rx="12.88" ry="7.39" fill="url(#sb)" fill-opacity="0.006"/><ellipse cx="899.75" cy="353.4" rx="12.95" ry="7.39" fill="url(#sb)" fill-opacity="0.011"/><ellipse cx="956.83" cy="353.39" rx="12.88" ry="7.39" fill="url(#sb)" fill-opacity="0.006"/><ellipse cx="884.51" cy="367.43" rx="7.43" ry="12.93" fill="url(#sb)" fill-opacity="0.004"/><ellipse cx="914.99" cy="367.43" rx="7.43" ry="12.93" fill="url(#sb)" fill-opacity="0.004"/><ellipse cx="842.45" cy="368.17" rx="9.88" ry="9.77" fill="url(#sb)" fill-opacity="0.008"/><ellipse cx="899.75" cy="368.19" rx="9.88" ry="9.77" fill="url(#sb)" fill-opacity="0.016"/><ellipse cx="957.05" cy="368.17" rx="9.88" ry="9.77" fill="url(#sb)" fill-opacity="0.008"/><ellipse cx="853.86" cy="73.49" rx="6.82" ry="9.53" fill="url(#sb)" fill-opacity="0.007"/><ellipse cx="888.28" cy="73.49" rx="7.5" ry="9.53" fill="url(#sb)" fill-opacity="0.009"/><ellipse cx="911.22" cy="73.49" rx="7.5" ry="9.53" fill="url(#sb)" fill-opacity="0.009"/><ellipse cx="945.64" cy="73.49" rx="6.82" ry="9.53" fill="url(#sb)" fill-opacity="0.007"/><ellipse cx="896.13" cy="76.5" rx="15" ry="6.13" fill="url(#sb)" fill-opacity="0.008"/><ellipse cx="903.37" cy="76.5" rx="15" ry="6.13" fill="url(#sb)" fill-opacity="0.008"/><ellipse cx="838.16" cy="77.11" rx="14.32" ry="7.49" fill="url(#sb)" fill-opacity="0.006"/><ellipse cx="961.34" cy="77.11" rx="14.32" ry="7.49" fill="url(#sb)" fill-opacity="0.006"/><ellipse cx="851.44" cy="92.18" rx="8.86" ry="7.49" fill="url(#sb)" fill-opacity="0.012"/><ellipse cx="948.06" cy="92.18" rx="8.86" ry="7.49" fill="url(#sb)" fill-opacity="0.012"/><ellipse cx="833.93" cy="92.78" rx="9.54" ry="6.81" fill="url(#sb)" fill-opacity="0.010"/><ellipse cx="891.3" cy="92.78" rx="9.54" ry="7.49" fill="url(#sb)" fill-opacity="0.018"/><ellipse cx="908.2" cy="92.78" rx="9.54" ry="7.49" fill="url(#sb)" fill-opacity="0.018"/><ellipse cx="965.57" cy="92.78" rx="9.54" ry="6.81" fill="url(#sb)" fill-opacity="0.010"/><ellipse cx="850.24" cy="106.05" rx="9.54" ry="5.45" fill="url(#sb)" fill-opacity="0.006"/><ellipse cx="891.9" cy="106.05" rx="9.54" ry="6.13" fill="url(#sb)" fill-opacity="0.009"/><ellipse cx="907.6" cy="106.05" rx="9.54" ry="6.13" fill="url(#sb)" fill-opacity="0.009"/><ellipse cx="949.26" cy="106.05" rx="9.54" ry="5.45" fill="url(#sb)" fill-opacity="0.006"/><ellipse cx="834.54" cy="106.65" rx="9.54" ry="6.13" fill="url(#sb)" fill-opacity="0.006"/><ellipse cx="964.96" cy="106.65" rx="9.54" ry="6.13" fill="url(#sb)" fill-opacity="0.006"/><ellipse cx="833.93" cy="113.89" rx="8.18" ry="6.81" fill="url(#sb)" fill-opacity="0.006"/><ellipse cx="891.3" cy="113.89" rx="8.18" ry="6.13" fill="url(#sb)" fill-opacity="0.008"/><ellipse cx="908.2" cy="113.89" rx="8.18" ry="6.13" fill="url(#sb)" fill-opacity="0.008"/><ellipse cx="965.57" cy="113.89" rx="8.18" ry="6.81" fill="url(#sb)" fill-opacity="0.006"/><ellipse cx="850.84" cy="114.49" rx="8.18" ry="5.45" fill="url(#sb)" fill-opacity="0.005"/><ellipse cx="948.66" cy="114.49" rx="8.18" ry="5.45" fill="url(#sb)" fill-opacity="0.005"/><ellipse cx="889.48" cy="128.96" rx="8.86" ry="8.85" fill="url(#sb)" fill-opacity="0.034"/><ellipse cx="910.02" cy="128.96" rx="8.86" ry="8.85" fill="url(#sb)" fill-opacity="0.034"/><ellipse cx="831.52" cy="129.57" rx="8.86" ry="9.53" fill="url(#sb)" fill-opacity="0.023"/><ellipse cx="967.98" cy="129.57" rx="8.86" ry="9.53" fill="url(#sb)" fill-opacity="0.023"/><ellipse cx="853.25" cy="130.17" rx="7.5" ry="9.53" fill="url(#sb)" fill-opacity="0.030"/><ellipse cx="946.25" cy="130.17" rx="7.5" ry="9.53" fill="url(#sb)" fill-opacity="0.030"/><ellipse cx="795.89" cy="130.77" rx="6.82" ry="9.53" fill="url(#sb)" fill-opacity="0.010"/><ellipse cx="817.02" cy="130.77" rx="6.82" ry="8.17" fill="url(#sb)" fill-opacity="0.006"/><ellipse cx="867.14" cy="130.77" rx="5.45" ry="8.85" fill="url(#sb)" fill-opacity="0.010"/><ellipse cx="874.99" cy="130.77" rx="6.14" ry="8.17" fill="url(#sb)" fill-opacity="0.011"/><ellipse cx="924.51" cy="130.77" rx="6.14" ry="8.17" fill="url(#sb)" fill-opacity="0.011"/><ellipse cx="932.36" cy="130.77" rx="5.45" ry="8.85" fill="url(#sb)" fill-opacity="0.010"/><ellipse cx="982.48" cy="130.77" rx="6.82" ry="8.17" fill="url(#sb)" fill-opacity="0.006"/><ellipse cx="1003.61" cy="130.77" rx="6.82" ry="9.53" fill="url(#sb)" fill-opacity="0.010"/><ellipse cx="809.78" cy="131.38" rx="6.14" ry="9.53" fill="url(#sb)" fill-opacity="0.006"/><ellipse cx="989.72" cy="131.38" rx="6.14" ry="9.53" fill="url(#sb)" fill-opacity="0.006"/><ellipse cx="780.19" cy="134.99" rx="7.5" ry="14.3" fill="url(#sb)" fill-opacity="0.006"/><ellipse cx="1019.31" cy="134.99" rx="7.5" ry="14.3" fill="url(#sb)" fill-opacity="0.006"/><ellipse cx="809.18" cy="147.05" rx="5.45" ry="9.53" fill="url(#sb)" fill-opacity="0.006"/><ellipse cx="867.14" cy="147.05" rx="6.14" ry="8.17" fill="url(#sb)" fill-opacity="0.011"/><ellipse cx="874.99" cy="147.05" rx="6.14" ry="8.85" fill="url(#sb)" fill-opacity="0.010"/><ellipse cx="924.51" cy="147.05" rx="6.14" ry="8.85" fill="url(#sb)" fill-opacity="0.010"/><ellipse cx="932.36" cy="147.05" rx="6.14" ry="8.17" fill="url(#sb)" fill-opacity="0.011"/><ellipse cx="990.33" cy="147.05" rx="5.45" ry="9.53" fill="url(#sb)" fill-opacity="0.006"/><ellipse cx="817.63" cy="147.66" rx="5.45" ry="8.17" fill="url(#sb)" fill-opacity="0.005"/><ellipse cx="981.87" cy="147.66" rx="5.45" ry="8.17" fill="url(#sb)" fill-opacity="0.005"/><ellipse cx="795.29" cy="148.26" rx="7.5" ry="8.85" fill="url(#sb)" fill-opacity="0.012"/><ellipse cx="888.88" cy="148.26" rx="8.18" ry="8.85" fill="url(#sb)" fill-opacity="0.031"/><ellipse cx="910.62" cy="148.26" rx="8.18" ry="8.85" fill="url(#sb)" fill-opacity="0.031"/><ellipse cx="1004.21" cy="148.26" rx="7.5" ry="8.85" fill="url(#sb)" fill-opacity="0.012"/><ellipse cx="852.05" cy="149.47" rx="9.54" ry="8.85" fill="url(#sb)" fill-opacity="0.034"/><ellipse cx="947.45" cy="149.47" rx="9.54" ry="8.85" fill="url(#sb)" fill-opacity="0.034"/><ellipse cx="833.33" cy="150.07" rx="9.54" ry="7.49" fill="url(#sb)" fill-opacity="0.030"/><ellipse cx="966.17" cy="150.07" rx="9.54" ry="7.49" fill="url(#sb)" fill-opacity="0.030"/><ellipse cx="776.57" cy="150.67" rx="9.54" ry="6.81" fill="url(#sb)" fill-opacity="0.007"/><ellipse cx="1022.93" cy="150.67" rx="9.54" ry="6.81" fill="url(#sb)" fill-opacity="0.007"/><ellipse cx="890.69" cy="163.34" rx="8.18" ry="6.13" fill="url(#sb)" fill-opacity="0.004"/><ellipse cx="908.81" cy="163.34" rx="8.18" ry="6.13" fill="url(#sb)" fill-opacity="0.004"/><ellipse cx="833.93" cy="163.94" rx="8.86" ry="5.45" fill="url(#sb)" fill-opacity="0.010"/><ellipse cx="850.24" cy="163.94" rx="8.18" ry="6.13" fill="url(#sb)" fill-opacity="0.011"/><ellipse cx="949.26" cy="163.94" rx="8.18" ry="6.13" fill="url(#sb)" fill-opacity="0.011"/><ellipse cx="965.57" cy="163.94" rx="8.86" ry="5.45" fill="url(#sb)" fill-opacity="0.010"/><ellipse cx="892.5" cy="171.17" rx="10.91" ry="5.45" fill="url(#sb)" fill-opacity="0.005"/><ellipse cx="907" cy="171.17" rx="10.91" ry="5.45" fill="url(#sb)" fill-opacity="0.005"/><ellipse cx="833.93" cy="171.78" rx="8.18" ry="6.13" fill="url(#sb)" fill-opacity="0.011"/><ellipse cx="850.24" cy="171.78" rx="8.86" ry="6.13" fill="url(#sb)" fill-opacity="0.010"/><ellipse cx="949.26" cy="171.78" rx="8.86" ry="6.13" fill="url(#sb)" fill-opacity="0.010"/><ellipse cx="965.57" cy="171.78" rx="8.18" ry="6.13" fill="url(#sb)" fill-opacity="0.011"/><ellipse cx="891.9" cy="184.44" rx="11.59" ry="6.81" fill="url(#sb)" fill-opacity="0.005"/><ellipse cx="907.6" cy="184.44" rx="11.59" ry="6.81" fill="url(#sb)" fill-opacity="0.005"/><ellipse cx="776.57" cy="185.04" rx="9.54" ry="7.49" fill="url(#sb)" fill-opacity="0.009"/><ellipse cx="1022.93" cy="185.04" rx="9.54" ry="7.49" fill="url(#sb)" fill-opacity="0.009"/><ellipse cx="851.44" cy="185.65" rx="8.86" ry="8.17" fill="url(#sb)" fill-opacity="0.031"/><ellipse cx="948.06" cy="185.65" rx="8.86" ry="8.17" fill="url(#sb)" fill-opacity="0.031"/><ellipse cx="832.12" cy="186.25" rx="8.86" ry="8.85" fill="url(#sb)" fill-opacity="0.034"/><ellipse cx="967.38" cy="186.25" rx="8.86" ry="8.85" fill="url(#sb)" fill-opacity="0.034"/><ellipse cx="866.54" cy="187.46" rx="6.14" ry="8.17" fill="url(#sb)" fill-opacity="0.004"/><ellipse cx="932.96" cy="187.46" rx="6.14" ry="8.17" fill="url(#sb)" fill-opacity="0.004"/><ellipse cx="795.89" cy="188.06" rx="7.5" ry="9.53" fill="url(#sb)" fill-opacity="0.018"/><ellipse cx="817.02" cy="188.06" rx="6.14" ry="8.17" fill="url(#sb)" fill-opacity="0.008"/><ellipse cx="982.48" cy="188.06" rx="6.14" ry="8.17" fill="url(#sb)" fill-opacity="0.008"/><ellipse cx="1003.61" cy="188.06" rx="7.5" ry="9.53" fill="url(#sb)" fill-opacity="0.018"/><ellipse cx="809.18" cy="188.66" rx="6.14" ry="9.53" fill="url(#sb)" fill-opacity="0.009"/><ellipse cx="990.33" cy="188.66" rx="6.14" ry="9.53" fill="url(#sb)" fill-opacity="0.009"/><ellipse cx="874.39" cy="189.26" rx="5.45" ry="10.89" fill="url(#sb)" fill-opacity="0.005"/><ellipse cx="925.11" cy="189.26" rx="5.45" ry="10.89" fill="url(#sb)" fill-opacity="0.005"/><ellipse cx="779.59" cy="192.88" rx="6.14" ry="14.98" fill="url(#sb)" fill-opacity="0.008"/><ellipse cx="1019.91" cy="192.88" rx="6.14" ry="14.98" fill="url(#sb)" fill-opacity="0.008"/><ellipse cx="779.59" cy="200.12" rx="6.14" ry="14.98" fill="url(#sb)" fill-opacity="0.008"/><ellipse cx="1019.91" cy="200.12" rx="6.14" ry="14.98" fill="url(#sb)" fill-opacity="0.008"/><ellipse cx="874.39" cy="203.74" rx="5.45" ry="10.89" fill="url(#sb)" fill-opacity="0.005"/><ellipse cx="925.11" cy="203.74" rx="5.45" ry="10.89" fill="url(#sb)" fill-opacity="0.005"/><ellipse cx="809.18" cy="204.34" rx="6.14" ry="9.53" fill="url(#sb)" fill-opacity="0.009"/><ellipse cx="887.67" cy="204.34" rx="6.82" ry="11.57" fill="url(#sb)" fill-opacity="0.005"/><ellipse cx="990.33" cy="204.34" rx="6.14" ry="9.53" fill="url(#sb)" fill-opacity="0.009"/><ellipse cx="795.89" cy="204.94" rx="7.5" ry="9.53" fill="url(#sb)" fill-opacity="0.018"/><ellipse cx="817.02" cy="204.94" rx="6.14" ry="8.17" fill="url(#sb)" fill-opacity="0.008"/><ellipse cx="982.48" cy="204.94" rx="6.14" ry="8.17" fill="url(#sb)" fill-opacity="0.008"/><ellipse cx="1003.61" cy="204.94" rx="7.5" ry="9.53" fill="url(#sb)" fill-opacity="0.018"/><ellipse cx="866.54" cy="205.55" rx="6.14" ry="8.17" fill="url(#sb)" fill-opacity="0.004"/><ellipse cx="932.96" cy="205.55" rx="6.14" ry="8.17" fill="url(#sb)" fill-opacity="0.004"/><ellipse cx="832.12" cy="206.75" rx="8.86" ry="8.85" fill="url(#sb)" fill-opacity="0.034"/><ellipse cx="967.38" cy="206.75" rx="8.86" ry="8.85" fill="url(#sb)" fill-opacity="0.034"/><ellipse cx="851.44" cy="207.35" rx="8.86" ry="8.17" fill="url(#sb)" fill-opacity="0.031"/><ellipse cx="948.06" cy="207.35" rx="8.86" ry="8.17" fill="url(#sb)" fill-opacity="0.031"/><ellipse cx="776.57" cy="207.96" rx="9.54" ry="7.49" fill="url(#sb)" fill-opacity="0.009"/><ellipse cx="1022.93" cy="207.96" rx="9.54" ry="7.49" fill="url(#sb)" fill-opacity="0.009"/><ellipse cx="907.6" cy="208.56" rx="11.59" ry="6.81" fill="url(#sb)" fill-opacity="0.005"/><ellipse cx="833.93" cy="221.22" rx="8.18" ry="6.13" fill="url(#sb)" fill-opacity="0.011"/><ellipse cx="850.24" cy="221.22" rx="8.86" ry="6.13" fill="url(#sb)" fill-opacity="0.010"/><ellipse cx="949.26" cy="221.22" rx="8.86" ry="6.13" fill="url(#sb)" fill-opacity="0.010"/><ellipse cx="965.57" cy="221.22" rx="8.18" ry="6.13" fill="url(#sb)" fill-opacity="0.011"/><ellipse cx="892.5" cy="221.83" rx="10.91" ry="5.45" fill="url(#sb)" fill-opacity="0.005"/><ellipse cx="907" cy="221.83" rx="10.91" ry="5.45" fill="url(#sb)" fill-opacity="0.005"/><ellipse cx="833.93" cy="229.06" rx="8.86" ry="5.45" fill="url(#sb)" fill-opacity="0.010"/><ellipse cx="850.24" cy="229.06" rx="8.18" ry="6.13" fill="url(#sb)" fill-opacity="0.011"/><ellipse cx="949.26" cy="229.06" rx="8.18" ry="6.13" fill="url(#sb)" fill-opacity="0.011"/><ellipse cx="965.57" cy="229.06" rx="8.86" ry="5.45" fill="url(#sb)" fill-opacity="0.010"/><ellipse cx="890.69" cy="229.67" rx="8.18" ry="6.13" fill="url(#sb)" fill-opacity="0.004"/><ellipse cx="908.81" cy="229.67" rx="8.18" ry="6.13" fill="url(#sb)" fill-opacity="0.004"/><ellipse cx="776.57" cy="242.33" rx="9.54" ry="6.81" fill="url(#sb)" fill-opacity="0.007"/><ellipse cx="1022.93" cy="242.33" rx="9.54" ry="6.81" fill="url(#sb)" fill-opacity="0.007"/><ellipse cx="833.33" cy="242.93" rx="9.54" ry="7.49" fill="url(#sb)" fill-opacity="0.030"/><ellipse cx="966.17" cy="242.93" rx="9.54" ry="7.49" fill="url(#sb)" fill-opacity="0.030"/><ellipse cx="947.45" cy="243.53" rx="9.54" ry="8.85" fill="url(#sb)" fill-opacity="0.034"/><ellipse cx="852.65" cy="244.14" rx="8.86" ry="9.53" fill="url(#sb)" fill-opacity="0.034"/><ellipse cx="795.29" cy="244.74" rx="7.5" ry="8.85" fill="url(#sb)" fill-opacity="0.012"/><ellipse cx="888.88" cy="244.74" rx="8.18" ry="8.85" fill="url(#sb)" fill-opacity="0.031"/><ellipse cx="910.62" cy="244.74" rx="8.18" ry="8.85" fill="url(#sb)" fill-opacity="0.031"/><ellipse cx="1004.21" cy="244.74" rx="7.5" ry="8.85" fill="url(#sb)" fill-opacity="0.012"/><ellipse cx="817.63" cy="245.34" rx="5.45" ry="8.17" fill="url(#sb)" fill-opacity="0.005"/><ellipse cx="981.87" cy="245.34" rx="5.45" ry="8.17" fill="url(#sb)" fill-opacity="0.005"/><ellipse cx="809.18" cy="245.95" rx="5.45" ry="9.53" fill="url(#sb)" fill-opacity="0.006"/><ellipse cx="867.14" cy="245.95" rx="6.14" ry="8.17" fill="url(#sb)" fill-opacity="0.011"/><ellipse cx="874.99" cy="245.95" rx="6.14" ry="8.85" fill="url(#sb)" fill-opacity="0.010"/><ellipse cx="924.51" cy="245.95" rx="6.14" ry="8.85" fill="url(#sb)" fill-opacity="0.010"/><ellipse cx="932.36" cy="245.95" rx="6.14" ry="8.17" fill="url(#sb)" fill-opacity="0.011"/><ellipse cx="990.33" cy="245.95" rx="5.45" ry="9.53" fill="url(#sb)" fill-opacity="0.006"/><ellipse cx="780.19" cy="258.01" rx="7.5" ry="14.3" fill="url(#sb)" fill-opacity="0.006"/><ellipse cx="1019.31" cy="258.01" rx="7.5" ry="14.3" fill="url(#sb)" fill-opacity="0.006"/><ellipse cx="809.78" cy="261.62" rx="6.14" ry="9.53" fill="url(#sb)" fill-opacity="0.006"/><ellipse cx="989.72" cy="261.62" rx="6.14" ry="9.53" fill="url(#sb)" fill-opacity="0.006"/><ellipse cx="795.89" cy="262.23" rx="6.82" ry="9.53" fill="url(#sb)" fill-opacity="0.010"/><ellipse cx="817.02" cy="262.23" rx="6.82" ry="8.17" fill="url(#sb)" fill-opacity="0.006"/><ellipse cx="867.14" cy="262.23" rx="5.45" ry="8.85" fill="url(#sb)" fill-opacity="0.010"/><ellipse cx="874.99" cy="262.23" rx="6.14" ry="8.17" fill="url(#sb)" fill-opacity="0.011"/><ellipse cx="924.51" cy="262.23" rx="6.14" ry="8.17" fill="url(#sb)" fill-opacity="0.011"/><ellipse cx="932.36" cy="262.23" rx="5.45" ry="8.85" fill="url(#sb)" fill-opacity="0.010"/><ellipse cx="982.48" cy="262.23" rx="6.82" ry="8.17" fill="url(#sb)" fill-opacity="0.006"/><ellipse cx="1003.61" cy="262.23" rx="6.82" ry="9.53" fill="url(#sb)" fill-opacity="0.010"/><ellipse cx="853.25" cy="262.83" rx="7.5" ry="9.53" fill="url(#sb)" fill-opacity="0.030"/><ellipse cx="946.25" cy="262.83" rx="7.5" ry="9.53" fill="url(#sb)" fill-opacity="0.030"/><ellipse cx="967.98" cy="263.43" rx="8.86" ry="9.53" fill="url(#sb)" fill-opacity="0.023"/><ellipse cx="889.48" cy="264.04" rx="8.86" ry="8.85" fill="url(#sb)" fill-opacity="0.034"/><ellipse cx="910.02" cy="264.04" rx="8.86" ry="8.85" fill="url(#sb)" fill-opacity="0.034"/><ellipse cx="832.72" cy="264.64" rx="9.54" ry="8.85" fill="url(#sb)" fill-opacity="0.023"/><ellipse cx="850.84" cy="278.51" rx="8.18" ry="5.45" fill="url(#sb)" fill-opacity="0.005"/><ellipse cx="948.66" cy="278.51" rx="8.18" ry="5.45" fill="url(#sb)" fill-opacity="0.005"/><ellipse cx="833.93" cy="279.11" rx="8.18" ry="6.81" fill="url(#sb)" fill-opacity="0.006"/><ellipse cx="891.3" cy="279.11" rx="8.18" ry="6.13" fill="url(#sb)" fill-opacity="0.008"/><ellipse cx="908.2" cy="279.11" rx="8.18" ry="6.13" fill="url(#sb)" fill-opacity="0.008"/><ellipse cx="965.57" cy="279.11" rx="8.18" ry="6.81" fill="url(#sb)" fill-opacity="0.006"/><ellipse cx="834.54" cy="286.35" rx="9.54" ry="6.13" fill="url(#sb)" fill-opacity="0.006"/><ellipse cx="964.96" cy="286.35" rx="9.54" ry="6.13" fill="url(#sb)" fill-opacity="0.006"/><ellipse cx="850.24" cy="286.95" rx="9.54" ry="5.45" fill="url(#sb)" fill-opacity="0.006"/><ellipse cx="891.9" cy="286.95" rx="9.54" ry="6.13" fill="url(#sb)" fill-opacity="0.009"/><ellipse cx="907.6" cy="286.95" rx="9.54" ry="6.13" fill="url(#sb)" fill-opacity="0.009"/><ellipse cx="949.26" cy="286.95" rx="9.54" ry="5.45" fill="url(#sb)" fill-opacity="0.006"/><ellipse cx="833.93" cy="300.22" rx="9.54" ry="6.81" fill="url(#sb)" fill-opacity="0.010"/><ellipse cx="891.3" cy="300.22" rx="9.54" ry="7.49" fill="url(#sb)" fill-opacity="0.018"/><ellipse cx="908.2" cy="300.22" rx="9.54" ry="7.49" fill="url(#sb)" fill-opacity="0.018"/><ellipse cx="965.57" cy="300.22" rx="9.54" ry="6.81" fill="url(#sb)" fill-opacity="0.010"/><ellipse cx="851.44" cy="300.82" rx="8.86" ry="7.49" fill="url(#sb)" fill-opacity="0.012"/><ellipse cx="948.06" cy="300.82" rx="8.86" ry="7.49" fill="url(#sb)" fill-opacity="0.012"/><ellipse cx="838.16" cy="315.89" rx="14.32" ry="7.49" fill="url(#sb)" fill-opacity="0.006"/><ellipse cx="961.34" cy="315.89" rx="14.32" ry="7.49" fill="url(#sb)" fill-opacity="0.006"/><ellipse cx="896.13" cy="316.5" rx="15" ry="6.13" fill="url(#sb)" fill-opacity="0.008"/><ellipse cx="903.37" cy="316.5" rx="15" ry="6.13" fill="url(#sb)" fill-opacity="0.008"/><ellipse cx="853.86" cy="319.51" rx="6.82" ry="9.53" fill="url(#sb)" fill-opacity="0.007"/><ellipse cx="888.28" cy="319.51" rx="7.5" ry="9.53" fill="url(#sb)" fill-opacity="0.009"/><ellipse cx="911.22" cy="319.51" rx="7.5" ry="9.53" fill="url(#sb)" fill-opacity="0.009"/><ellipse cx="945.64" cy="319.51" rx="6.82" ry="9.53" fill="url(#sb)" fill-opacity="0.007"/></g></g>
<path d="M748.79 377.4v-3.0M748.79 15.6v3.0M718.6 347.25h3.0M1080.9 347.25h-3.0M899.75 377.4v-3.0M899.75 15.6v3.0M718.6 196.5h3.0M1080.9 196.5h-3.0M1050.71 377.4v-3.0M1050.71 15.6v3.0M718.6 45.75h3.0M1080.9 45.75h-3.0" stroke="#262626" stroke-width="1" stroke-opacity="0.6" fill="none"/>
<rect x="718.6" y="15.6" width="362.3" height="361.8" fill="none" stroke="#262626" stroke-width="1"/>
<rect x="1094.2" y="15.6" width="24.9" height="361.8" fill="url(#cb)" stroke="#262626" stroke-width="1"/>
<text x="1127.2" y="314.32" font-family="Liberation Sans, sans-serif" font-size="28.0" fill="#262626">50</text>
<text x="1127.2" y="242.22" font-family="Liberation Sans, sans-serif" font-size="28.0" fill="#262626">100</text>
<text x="1127.2" y="170.12" font-family="Liberation Sans, sans-serif" font-size="28.0" fill="#262626">150</text>
<text x="1127.2" y="98.02" font-family="Liberation Sans, sans-serif" font-size="28.0" fill="#262626">200</text>
<text x="1127.2" y="25.92" font-family="Liberation Sans, sans-serif" font-size="28.0" fill="#262626">250</text>
<path d="M1119.1 305.3h-3.0M1119.1 233.2h-3.0M1119.1 161.1h-3.0M1119.1 89h-3.0M1119.1 16.9h-3.0" stroke="#262626" stroke-width="1" stroke-opacity="0.7" fill="none"/>
<text x="748.09" y="416.3" text-anchor="middle" font-family="Liberation Sans, sans-serif" font-size="30.8" fill="#262626">-50</text>
<text x="709.1" y="356.98" text-anchor="end" font-family="Liberation Sans, sans-serif" font-size="30.8" fill="#262626">-50</text>
<text x="899.75" y="416.3" text-anchor="middle" font-family="Liberation Sans, sans-serif" font-size="30.8" fill="#262626">0</text>
<text x="709.1" y="206.23" text-anchor="end" font-family="Liberation Sans, sans-serif" font-size="30.8" fill="#262626">0</text>
<text x="1050.71" y="416.3" text-anchor="middle" font-family="Liberation Sans, sans-serif" font-size="30.8" fill="#262626">50</text>
<text x="709.1" y="55.48" text-anchor="end" font-family="Liberation Sans, sans-serif" font-size="30.8" fill="#262626">50</text>
<g transform="translate(839.4 445.2)"><text x="-0.5" y="0" font-family="Liberation Sans, sans-serif" font-size="31.0" fill="#262626">y axis (</text><path transform="scale(1)" d="M100.4 7.3L104.9-12.1M104.3-9.2L103.2-4.2C102.5-0.8 104.2 0.4 106.4 0.4C109.4 0.4 111.9-3 113.2-7.2M114.7-12.1L112.6-2.6C112.2-0.4 113.3 0.4 114.4 0.4C115.7 0.4 116.5-1.4 116.9-3.2" fill="none" stroke="#262626" stroke-width="1.5" stroke-linecap="round" stroke-linejoin="round"/><text x="117.9" y="0" font-family="Liberation Sans, sans-serif" font-size="31.0" fill="#262626">m<tspan dx="1.8">)</tspan></text></g>
<g transform="translate(660.9 273.8) rotate(-90)"><text x="-0.5" y="0" font-family="Liberation Sans, sans-serif" font-size="31.0" fill="#262626">z axis (</text><path transform="scale(1)" d="M100.4 7.3L104.9-12.1M104.3-9.2L103.2-4.2C102.5-0.8 104.2 0.4 106.4 0.4C109.4 0.4 111.9-3 113.2-7.2M114.7-12.1L112.6-2.6C112.2-0.4 113.3 0.4 114.4 0.4C115.7 0.4 116.5-1.4 116.9-3.2" fill="none" stroke="#262626" stroke-width="1.5" stroke-linecap="round" stroke-linejoin="round"/><text x="117.9" y="0" font-family="Liberation Sans, sans-serif" font-size="31.0" fill="#262626">m<tspan dx="1.8">)</tspan></text></g>
<text transform="translate(726.11 55.08) scale(0.2736 0.4470)" font-family="Liberation Sans, sans-serif" font-size="100" fill="#fff" stroke="#fff" stroke-width="3.0" text-rendering="geometricPrecision">(</text>
<text transform="translate(740.26 56.08) scale(0.4212 0.4525)" font-family="Liberation Sans, sans-serif" font-size="100" fill="#fff" stroke="#fff" stroke-width="1.2" text-rendering="geometricPrecision">b</text>
<text transform="translate(768.09 55.08) scale(0.2939 0.4470)" font-family="Liberation Sans, sans-serif" font-size="100" fill="#fff" stroke="#fff" stroke-width="3.0" text-rendering="geometricPrecision">)</text>
<g filter="url(#jet)"><g clip-path="url(#clc)"><rect x="113.5" y="484.9" width="368.1" height="368.2" fill="#000"/><circle cx="168.52" cy="539.29" r="35.09" fill="url(#dn)"/><circle cx="168.52" cy="604.13" r="35.09" fill="url(#dn)"/><circle cx="168.52" cy="668.97" r="35.09" fill="url(#dn)"/><circle cx="168.52" cy="733.81" r="35.09" fill="url(#dn)"/><circle cx="168.52" cy="798.65" r="35.09" fill="url(#dn)"/><circle cx="233.06" cy="539.29" r="35.09" fill="url(#dn)"/><circle cx="233.06" cy="604.13" r="35.09" fill="url(#dn)"/><circle cx="233.06" cy="668.97" r="35.09" fill="url(#dn)"/><circle cx="233.06" cy="733.81" r="35.09" fill="url(#dn)"/><circle cx="233.06" cy="798.65" r="35.09" fill="url(#dn)"/><circle cx="297.6" cy="539.29" r="35.09" fill="url(#dn)"/><circle cx="297.6" cy="604.13" r="35.09" fill="url(#dn)"/><circle cx="297.6" cy="733.81" r="35.09" fill="url(#dn)"/><circle cx="297.6" cy="798.65" r="35.09" fill="url(#dn)"/><circle cx="362.14" cy="539.29" r="35.09" fill="url(#dn)"/><circle cx="362.14" cy="604.13" r="35.09" fill="url(#dn)"/><circle cx="362.14" cy="668.97" r="35.09" fill="url(#dn)"/><circle cx="362.14" cy="733.81" r="35.09" fill="url(#dn)"/><circle cx="362.14" cy="798.65" r="35.09" fill="url(#dn)"/><circle cx="426.68" cy="539.29" r="35.09" fill="url(#dn)"/><circle cx="426.68" cy="604.13" r="35.09" fill="url(#dn)"/><circle cx="426.68" cy="668.97" r="35.09" fill="url(#dn)"/><circle cx="426.68" cy="733.81" r="35.09" fill="url(#dn)"/><circle cx="426.68" cy="798.65" r="35.09" fill="url(#dn)"/></g></g>
<path d="M144.18 853.1v-3.0M144.18 484.9v3.0M113.5 822.42h3.0M481.6 822.42h-3.0M297.55 853.1v-3.0M297.55 484.9v3.0M113.5 669h3.0M481.6 669h-3.0M450.93 853.1v-3.0M450.93 484.9v3.0M113.5 515.58h3.0M481.6 515.58h-3.0" stroke="#262626" stroke-width="1" stroke-opacity="0.6" fill="none"/>
<rect x="113.5" y="484.9" width="368.1" height="368.2" fill="none" stroke="#262626" stroke-width="1"/>
<rect x="494.7" y="484.9" width="25.7" height="368.2" fill="url(#cb)" stroke="#262626" stroke-width="1"/>
<text x="528.6" y="806.86" font-family="Liberation Sans, sans-serif" font-size="28.0" fill="#262626">0.05</text>
<text x="528.6" y="751.59" font-family="Liberation Sans, sans-serif" font-size="28.0" fill="#262626">0.1</text>
<text x="528.6" y="696.32" font-family="Liberation Sans, sans-serif" font-size="28.0" fill="#262626">0.15</text>
<text x="528.6" y="641.05" font-family="Liberation Sans, sans-serif" font-size="28.0" fill="#262626">0.2</text>
<text x="528.6" y="585.78" font-family="Liberation Sans, sans-serif" font-size="28.0" fill="#262626">0.25</text>
<text x="528.6" y="530.51" font-family="Liberation Sans, sans-serif" font-size="28.0" fill="#262626">0.3</text>
<path d="M520.4 797.83h-3.0M520.4 742.56h-3.0M520.4 687.29h-3.0M520.4 632.03h-3.0M520.4 576.76h-3.0M520.4 521.49h-3.0" stroke="#262626" stroke-width="1" stroke-opacity="0.7" fill="none"/>
<text x="143.48" y="892.8" text-anchor="middle" font-family="Liberation Sans, sans-serif" font-size="30.8" fill="#262626">-500</text>
<text x="103.6" y="832.14" text-anchor="end" font-family="Liberation Sans, sans-serif" font-size="30.8" fill="#262626">-500</text>
<text x="297.55" y="892.8" text-anchor="middle" font-family="Liberation Sans, sans-serif" font-size="30.8" fill="#262626">0</text>
<text x="103.6" y="678.73" text-anchor="end" font-family="Liberation Sans, sans-serif" font-size="30.8" fill="#262626">0</text>
<text x="450.93" y="892.8" text-anchor="middle" font-family="Liberation Sans, sans-serif" font-size="30.8" fill="#262626">500</text>
<text x="103.6" y="525.31" text-anchor="end" font-family="Liberation Sans, sans-serif" font-size="30.8" fill="#262626">500</text>
<g transform="translate(226.2 923.4)"><text x="-0.5" y="0" font-family="Liberation Sans, sans-serif" font-size="31.4" fill="#262626">y axis (</text><path transform="scale(1.01)" d="M100.4 7.3L104.9-12.1M104.3-9.2L103.2-4.2C102.5-0.8 104.2 0.4 106.4 0.4C109.4 0.4 111.9-3 113.2-7.2M114.7-12.1L112.6-2.6C112.2-0.4 113.3 0.4 114.4 0.4C115.7 0.4 116.5-1.4 116.9-3.2" fill="none" stroke="#262626" stroke-width="1.5" stroke-linecap="round" stroke-linejoin="round"/><text x="119.42" y="0" font-family="Liberation Sans, sans-serif" font-size="31.4" fill="#262626">m<tspan dx="1.8">)</tspan></text></g>
<g transform="translate(31.6 745.5) rotate(-90)"><text x="-0.5" y="0" font-family="Liberation Sans, sans-serif" font-size="31.4" fill="#262626">z axis (</text><path transform="scale(1.01)" d="M100.4 7.3L104.9-12.1M104.3-9.2L103.2-4.2C102.5-0.8 104.2 0.4 106.4 0.4C109.4 0.4 111.9-3 113.2-7.2M114.7-12.1L112.6-2.6C112.2-0.4 113.3 0.4 114.4 0.4C115.7 0.4 116.5-1.4 116.9-3.2" fill="none" stroke="#262626" stroke-width="1.5" stroke-linecap="round" stroke-linejoin="round"/><text x="119.42" y="0" font-family="Liberation Sans, sans-serif" font-size="31.4" fill="#262626">m<tspan dx="1.8">)</tspan></text></g>
<text transform="translate(119.82 523.69) scale(0.2939 0.4418)" font-family="Liberation Sans, sans-serif" font-size="100" fill="#fff" stroke="#fff" stroke-width="3.0" text-rendering="geometricPrecision">(</text>
<text transform="translate(133.59 525.66) scale(0.3919 0.4018)" font-family="Liberation Sans, sans-serif" font-size="100" fill="#fff" stroke="#fff" stroke-width="1.2" text-rendering="geometricPrecision">c</text>
<text transform="translate(156.79 523.69) scale(0.2939 0.4418)" font-family="Liberation Sans, sans-serif" font-size="100" fill="#fff" stroke="#fff" stroke-width="3.0" text-rendering="geometricPrecision">)</text>
<g filter="url(#jet)"><g clip-path="url(#cld)"><rect x="712.6" y="487.5" width="368.1" height="367.7" fill="#000"/><ellipse cx="838.55" cy="497.23" rx="11.6" ry="11.42" fill="url(#sb)" fill-opacity="0.008"/><ellipse cx="896.65" cy="497.2" rx="11.64" ry="11.45" fill="url(#sb)" fill-opacity="0.016"/><ellipse cx="954.75" cy="497.23" rx="11.6" ry="11.42" fill="url(#sb)" fill-opacity="0.008"/><ellipse cx="896.65" cy="513.28" rx="12.95" ry="7.33" fill="url(#sb)" fill-opacity="0.004"/><ellipse cx="838.6" cy="537.72" rx="12.92" ry="7.16" fill="url(#sb)" fill-opacity="0.009"/><ellipse cx="896.65" cy="537.7" rx="12.95" ry="7.16" fill="url(#sb)" fill-opacity="0.016"/><ellipse cx="954.7" cy="537.72" rx="12.92" ry="7.16" fill="url(#sb)" fill-opacity="0.009"/><ellipse cx="867.41" cy="554.96" rx="5.99" ry="10.48" fill="url(#sb)" fill-opacity="0.009"/><ellipse cx="896.65" cy="555.06" rx="11.64" ry="11.55" fill="url(#sb)" fill-opacity="0.372"/><ellipse cx="925.89" cy="554.96" rx="5.99" ry="10.48" fill="url(#sb)" fill-opacity="0.009"/><ellipse cx="780.41" cy="555.24" rx="11.57" ry="11.55" fill="url(#sb)" fill-opacity="0.032"/><ellipse cx="821.28" cy="555.35" rx="7.24" ry="12.83" fill="url(#sb)" fill-opacity="0.013"/><ellipse cx="838.48" cy="555.13" rx="11.64" ry="11.55" fill="url(#sb)" fill-opacity="0.211"/><ellipse cx="855.18" cy="555.27" rx="7.34" ry="12.83" fill="url(#sb)" fill-opacity="0.026"/><ellipse cx="879.69" cy="555.23" rx="7.27" ry="12.83" fill="url(#sb)" fill-opacity="0.033"/><ellipse cx="913.61" cy="555.23" rx="7.27" ry="12.83" fill="url(#sb)" fill-opacity="0.033"/><ellipse cx="938.12" cy="555.27" rx="7.34" ry="12.83" fill="url(#sb)" fill-opacity="0.026"/><ellipse cx="954.82" cy="555.13" rx="11.64" ry="11.55" fill="url(#sb)" fill-opacity="0.211"/><ellipse cx="972.02" cy="555.35" rx="7.24" ry="12.83" fill="url(#sb)" fill-opacity="0.013"/><ellipse cx="1012.89" cy="555.24" rx="11.57" ry="11.55" fill="url(#sb)" fill-opacity="0.032"/><ellipse cx="796.8" cy="555.4" rx="7.38" ry="12.83" fill="url(#sb)" fill-opacity="0.006"/><ellipse cx="996.5" cy="555.4" rx="7.38" ry="12.83" fill="url(#sb)" fill-opacity="0.006"/><ellipse cx="780.58" cy="571.61" rx="12.85" ry="7.37" fill="url(#sb)" fill-opacity="0.006"/><ellipse cx="838.52" cy="571.55" rx="12.92" ry="7.33" fill="url(#sb)" fill-opacity="0.035"/><ellipse cx="896.65" cy="571.51" rx="12.95" ry="7.3" fill="url(#sb)" fill-opacity="0.058"/><ellipse cx="954.78" cy="571.55" rx="12.92" ry="7.33" fill="url(#sb)" fill-opacity="0.035"/><ellipse cx="1012.72" cy="571.61" rx="12.85" ry="7.37" fill="url(#sb)" fill-opacity="0.006"/><ellipse cx="867.46" cy="571.65" rx="9.21" ry="9.27" fill="url(#sb)" fill-opacity="0.005"/><ellipse cx="925.84" cy="571.65" rx="9.21" ry="9.27" fill="url(#sb)" fill-opacity="0.005"/><ellipse cx="838.35" cy="583.71" rx="10.56" ry="6.02" fill="url(#sb)" fill-opacity="0.015"/><ellipse cx="855.2" cy="583.85" rx="9.25" ry="9.17" fill="url(#sb)" fill-opacity="0.006"/><ellipse cx="879.69" cy="583.8" rx="9.18" ry="9.17" fill="url(#sb)" fill-opacity="0.007"/><ellipse cx="896.65" cy="583.67" rx="10.6" ry="6.02" fill="url(#sb)" fill-opacity="0.023"/><ellipse cx="913.61" cy="583.8" rx="9.18" ry="9.17" fill="url(#sb)" fill-opacity="0.007"/><ellipse cx="938.1" cy="583.85" rx="9.25" ry="9.17" fill="url(#sb)" fill-opacity="0.006"/><ellipse cx="954.95" cy="583.71" rx="10.56" ry="6.02" fill="url(#sb)" fill-opacity="0.015"/><ellipse cx="780.52" cy="596.07" rx="12.85" ry="7.23" fill="url(#sb)" fill-opacity="0.013"/><ellipse cx="838.42" cy="595.99" rx="12.92" ry="7.23" fill="url(#sb)" fill-opacity="0.065"/><ellipse cx="867.42" cy="595.99" rx="9.21" ry="9.1" fill="url(#sb)" fill-opacity="0.008"/><ellipse cx="896.65" cy="595.91" rx="12.95" ry="7.23" fill="url(#sb)" fill-opacity="0.089"/><ellipse cx="925.88" cy="595.99" rx="9.21" ry="9.1" fill="url(#sb)" fill-opacity="0.008"/><ellipse cx="954.88" cy="595.99" rx="12.92" ry="7.23" fill="url(#sb)" fill-opacity="0.065"/><ellipse cx="1012.78" cy="596.07" rx="12.85" ry="7.23" fill="url(#sb)" fill-opacity="0.013"/><ellipse cx="855.09" cy="612.94" rx="7.31" ry="12.9" fill="url(#sb)" fill-opacity="0.092"/><ellipse cx="867.36" cy="612.82" rx="6.03" ry="10.52" fill="url(#sb)" fill-opacity="0.028"/><ellipse cx="879.64" cy="612.72" rx="7.31" ry="12.83" fill="url(#sb)" fill-opacity="0.093"/><ellipse cx="896.65" cy="612.68" rx="11.7" ry="11.59" fill="url(#sb)" fill-opacity="1.000"/><ellipse cx="913.66" cy="612.72" rx="7.31" ry="12.83" fill="url(#sb)" fill-opacity="0.093"/><ellipse cx="925.94" cy="612.82" rx="6.03" ry="10.52" fill="url(#sb)" fill-opacity="0.028"/><ellipse cx="938.21" cy="612.94" rx="7.31" ry="12.9" fill="url(#sb)" fill-opacity="0.092"/><ellipse cx="780.31" cy="613.24" rx="11.57" ry="11.62" fill="url(#sb)" fill-opacity="0.211"/><ellipse cx="808.91" cy="613.11" rx="6.03" ry="10.55" fill="url(#sb)" fill-opacity="0.015"/><ellipse cx="821.21" cy="613.18" rx="7.24" ry="12.9" fill="url(#sb)" fill-opacity="0.065"/><ellipse cx="838.27" cy="613.03" rx="11.64" ry="11.62" fill="url(#sb)" fill-opacity="0.904"/><ellipse cx="955.03" cy="613.03" rx="11.64" ry="11.62" fill="url(#sb)" fill-opacity="0.904"/><ellipse cx="972.09" cy="613.18" rx="7.24" ry="12.9" fill="url(#sb)" fill-opacity="0.065"/><ellipse cx="984.39" cy="613.11" rx="6.03" ry="10.55" fill="url(#sb)" fill-opacity="0.015"/><ellipse cx="1012.99" cy="613.24" rx="11.57" ry="11.62" fill="url(#sb)" fill-opacity="0.211"/><ellipse cx="722.34" cy="613.31" rx="11.43" ry="11.59" fill="url(#sb)" fill-opacity="0.008"/><ellipse cx="762.88" cy="613.37" rx="7.17" ry="12.9" fill="url(#sb)" fill-opacity="0.009"/><ellipse cx="796.74" cy="613.28" rx="7.34" ry="12.9" fill="url(#sb)" fill-opacity="0.035"/><ellipse cx="996.56" cy="613.28" rx="7.34" ry="12.9" fill="url(#sb)" fill-opacity="0.035"/><ellipse cx="1030.42" cy="613.37" rx="7.17" ry="12.9" fill="url(#sb)" fill-opacity="0.009"/><ellipse cx="1070.96" cy="613.31" rx="11.43" ry="11.59" fill="url(#sb)" fill-opacity="0.008"/><ellipse cx="867.24" cy="629.65" rx="9.21" ry="9.1" fill="url(#sb)" fill-opacity="0.008"/><ellipse cx="896.65" cy="629.57" rx="13.09" ry="7.16" fill="url(#sb)" fill-opacity="0.068"/><ellipse cx="926.06" cy="629.65" rx="9.21" ry="9.1" fill="url(#sb)" fill-opacity="0.008"/><ellipse cx="780.44" cy="629.93" rx="12.85" ry="7.33" fill="url(#sb)" fill-opacity="0.026"/><ellipse cx="809.05" cy="629.95" rx="9.18" ry="9.24" fill="url(#sb)" fill-opacity="0.006"/><ellipse cx="838.17" cy="629.84" rx="12.92" ry="7.3" fill="url(#sb)" fill-opacity="0.092"/><ellipse cx="955.13" cy="629.84" rx="12.92" ry="7.3" fill="url(#sb)" fill-opacity="0.092"/><ellipse cx="984.25" cy="629.95" rx="9.18" ry="9.24" fill="url(#sb)" fill-opacity="0.006"/><ellipse cx="1012.86" cy="629.93" rx="12.85" ry="7.33" fill="url(#sb)" fill-opacity="0.026"/><ellipse cx="879.37" cy="641.61" rx="9.35" ry="9.1" fill="url(#sb)" fill-opacity="0.005"/><ellipse cx="896.65" cy="641.78" rx="10.74" ry="5.95" fill="url(#sb)" fill-opacity="0.013"/><ellipse cx="913.93" cy="641.61" rx="9.35" ry="9.1" fill="url(#sb)" fill-opacity="0.005"/><ellipse cx="838.06" cy="642.09" rx="10.53" ry="6.02" fill="url(#sb)" fill-opacity="0.028"/><ellipse cx="854.9" cy="641.97" rx="9.11" ry="9.2" fill="url(#sb)" fill-opacity="0.008"/><ellipse cx="938.4" cy="641.97" rx="9.11" ry="9.2" fill="url(#sb)" fill-opacity="0.008"/><ellipse cx="955.24" cy="642.09" rx="10.53" ry="6.02" fill="url(#sb)" fill-opacity="0.028"/><ellipse cx="780.13" cy="642.14" rx="10.49" ry="5.98" fill="url(#sb)" fill-opacity="0.009"/><ellipse cx="796.84" cy="642.19" rx="9.28" ry="9.2" fill="url(#sb)" fill-opacity="0.005"/><ellipse cx="821.21" cy="642.15" rx="9.11" ry="9.2" fill="url(#sb)" fill-opacity="0.008"/><ellipse cx="972.09" cy="642.15" rx="9.11" ry="9.2" fill="url(#sb)" fill-opacity="0.008"/><ellipse cx="996.46" cy="642.19" rx="9.28" ry="9.2" fill="url(#sb)" fill-opacity="0.005"/><ellipse cx="1013.17" cy="642.14" rx="10.49" ry="5.98" fill="url(#sb)" fill-opacity="0.009"/><ellipse cx="896.65" cy="653.48" rx="13.85" ry="7.2" fill="url(#sb)" fill-opacity="0.017"/><ellipse cx="866.88" cy="654.09" rx="9.11" ry="9.34" fill="url(#sb)" fill-opacity="0.005"/><ellipse cx="926.42" cy="654.09" rx="9.11" ry="9.34" fill="url(#sb)" fill-opacity="0.005"/><ellipse cx="780.4" cy="654.41" rx="12.85" ry="7.26" fill="url(#sb)" fill-opacity="0.033"/><ellipse cx="809.01" cy="654.41" rx="9.18" ry="9.17" fill="url(#sb)" fill-opacity="0.007"/><ellipse cx="837.96" cy="654.35" rx="12.85" ry="7.3" fill="url(#sb)" fill-opacity="0.093"/><ellipse cx="955.34" cy="654.35" rx="12.85" ry="7.3" fill="url(#sb)" fill-opacity="0.093"/><ellipse cx="984.29" cy="654.41" rx="9.18" ry="9.17" fill="url(#sb)" fill-opacity="0.007"/><ellipse cx="1012.9" cy="654.41" rx="12.85" ry="7.26" fill="url(#sb)" fill-opacity="0.033"/><ellipse cx="892.37" cy="667.08" rx="8.38" ry="8.37" fill="url(#sb)" fill-opacity="0.009"/><ellipse cx="900.93" cy="667.08" rx="8.38" ry="8.37" fill="url(#sb)" fill-opacity="0.009"/><ellipse cx="722.31" cy="671.35" rx="11.46" ry="11.62" fill="url(#sb)" fill-opacity="0.016"/><ellipse cx="738.4" cy="671.35" rx="7.34" ry="12.94" fill="url(#sb)" fill-opacity="0.004"/><ellipse cx="762.86" cy="671.35" rx="7.17" ry="12.94" fill="url(#sb)" fill-opacity="0.016"/><ellipse cx="780.24" cy="671.35" rx="11.57" ry="11.62" fill="url(#sb)" fill-opacity="0.372"/><ellipse cx="796.7" cy="671.35" rx="7.31" ry="12.94" fill="url(#sb)" fill-opacity="0.058"/><ellipse cx="808.87" cy="671.35" rx="6.03" ry="10.59" fill="url(#sb)" fill-opacity="0.023"/><ellipse cx="821.13" cy="671.35" rx="7.24" ry="12.94" fill="url(#sb)" fill-opacity="0.089"/><ellipse cx="837.92" cy="671.35" rx="11.6" ry="11.69" fill="url(#sb)" fill-opacity="1.000"/><ellipse cx="854.83" cy="671.35" rx="7.17" ry="13.08" fill="url(#sb)" fill-opacity="0.068"/><ellipse cx="867.04" cy="671.35" rx="5.96" ry="10.72" fill="url(#sb)" fill-opacity="0.013"/><ellipse cx="878.76" cy="671.35" rx="7.2" ry="13.84" fill="url(#sb)" fill-opacity="0.017"/><ellipse cx="914.54" cy="671.35" rx="7.2" ry="13.84" fill="url(#sb)" fill-opacity="0.017"/><ellipse cx="926.26" cy="671.35" rx="5.96" ry="10.72" fill="url(#sb)" fill-opacity="0.013"/><ellipse cx="938.47" cy="671.35" rx="7.17" ry="13.08" fill="url(#sb)" fill-opacity="0.068"/><ellipse cx="955.38" cy="671.35" rx="11.6" ry="11.69" fill="url(#sb)" fill-opacity="1.000"/><ellipse cx="972.17" cy="671.35" rx="7.24" ry="12.94" fill="url(#sb)" fill-opacity="0.089"/><ellipse cx="984.43" cy="671.35" rx="6.03" ry="10.59" fill="url(#sb)" fill-opacity="0.023"/><ellipse cx="996.6" cy="671.35" rx="7.31" ry="12.94" fill="url(#sb)" fill-opacity="0.058"/><ellipse cx="1013.06" cy="671.35" rx="11.57" ry="11.62" fill="url(#sb)" fill-opacity="0.372"/><ellipse cx="1030.44" cy="671.35" rx="7.17" ry="12.94" fill="url(#sb)" fill-opacity="0.016"/><ellipse cx="1054.9" cy="671.35" rx="7.34" ry="12.94" fill="url(#sb)" fill-opacity="0.004"/><ellipse cx="1070.99" cy="671.35" rx="11.46" ry="11.62" fill="url(#sb)" fill-opacity="0.016"/><ellipse cx="892.37" cy="675.62" rx="8.38" ry="8.37" fill="url(#sb)" fill-opacity="0.009"/><ellipse cx="900.93" cy="675.62" rx="8.38" ry="8.37" fill="url(#sb)" fill-opacity="0.009"/><ellipse cx="780.4" cy="688.29" rx="12.85" ry="7.26" fill="url(#sb)" fill-opacity="0.033"/><ellipse cx="809.01" cy="688.29" rx="9.18" ry="9.17" fill="url(#sb)" fill-opacity="0.007"/><ellipse cx="837.96" cy="688.35" rx="12.85" ry="7.3" fill="url(#sb)" fill-opacity="0.093"/><ellipse cx="955.34" cy="688.35" rx="12.85" ry="7.3" fill="url(#sb)" fill-opacity="0.093"/><ellipse cx="984.29" cy="688.29" rx="9.18" ry="9.17" fill="url(#sb)" fill-opacity="0.007"/><ellipse cx="1012.9" cy="688.29" rx="12.85" ry="7.26" fill="url(#sb)" fill-opacity="0.033"/><ellipse cx="866.88" cy="688.61" rx="9.11" ry="9.34" fill="url(#sb)" fill-opacity="0.005"/><ellipse cx="926.42" cy="688.61" rx="9.11" ry="9.34" fill="url(#sb)" fill-opacity="0.005"/><ellipse cx="896.65" cy="689.22" rx="13.85" ry="7.2" fill="url(#sb)" fill-opacity="0.017"/><ellipse cx="780.13" cy="700.56" rx="10.49" ry="5.98" fill="url(#sb)" fill-opacity="0.009"/><ellipse cx="796.84" cy="700.51" rx="9.28" ry="9.2" fill="url(#sb)" fill-opacity="0.005"/><ellipse cx="821.21" cy="700.55" rx="9.11" ry="9.2" fill="url(#sb)" fill-opacity="0.008"/><ellipse cx="972.09" cy="700.55" rx="9.11" ry="9.2" fill="url(#sb)" fill-opacity="0.008"/><ellipse cx="996.46" cy="700.51" rx="9.28" ry="9.2" fill="url(#sb)" fill-opacity="0.005"/><ellipse cx="1013.17" cy="700.56" rx="10.49" ry="5.98" fill="url(#sb)" fill-opacity="0.009"/><ellipse cx="838.06" cy="700.61" rx="10.53" ry="6.02" fill="url(#sb)" fill-opacity="0.028"/><ellipse cx="854.9" cy="700.73" rx="9.11" ry="9.2" fill="url(#sb)" fill-opacity="0.008"/><ellipse cx="938.4" cy="700.73" rx="9.11" ry="9.2" fill="url(#sb)" fill-opacity="0.008"/><ellipse cx="955.24" cy="700.61" rx="10.53" ry="6.02" fill="url(#sb)" fill-opacity="0.028"/><ellipse cx="879.37" cy="701.09" rx="9.35" ry="9.1" fill="url(#sb)" fill-opacity="0.005"/><ellipse cx="896.65" cy="700.92" rx="10.74" ry="5.95" fill="url(#sb)" fill-opacity="0.013"/><ellipse cx="913.93" cy="701.09" rx="9.35" ry="9.1" fill="url(#sb)" fill-opacity="0.005"/><ellipse cx="780.44" cy="712.77" rx="12.85" ry="7.33" fill="url(#sb)" fill-opacity="0.026"/><ellipse cx="809.05" cy="712.75" rx="9.18" ry="9.24" fill="url(#sb)" fill-opacity="0.006"/><ellipse cx="838.17" cy="712.86" rx="12.92" ry="7.3" fill="url(#sb)" fill-opacity="0.092"/><ellipse cx="955.13" cy="712.86" rx="12.92" ry="7.3" fill="url(#sb)" fill-opacity="0.092"/><ellipse cx="984.25" cy="712.75" rx="9.18" ry="9.24" fill="url(#sb)" fill-opacity="0.006"/><ellipse cx="1012.86" cy="712.77" rx="12.85" ry="7.33" fill="url(#sb)" fill-opacity="0.026"/><ellipse cx="867.24" cy="713.05" rx="9.21" ry="9.1" fill="url(#sb)" fill-opacity="0.008"/><ellipse cx="896.65" cy="713.13" rx="13.09" ry="7.16" fill="url(#sb)" fill-opacity="0.068"/><ellipse cx="926.06" cy="713.05" rx="9.21" ry="9.1" fill="url(#sb)" fill-opacity="0.008"/><ellipse cx="722.34" cy="729.39" rx="11.43" ry="11.59" fill="url(#sb)" fill-opacity="0.008"/><ellipse cx="762.88" cy="729.33" rx="7.17" ry="12.9" fill="url(#sb)" fill-opacity="0.009"/><ellipse cx="796.74" cy="729.42" rx="7.34" ry="12.9" fill="url(#sb)" fill-opacity="0.035"/><ellipse cx="996.56" cy="729.42" rx="7.34" ry="12.9" fill="url(#sb)" fill-opacity="0.035"/><ellipse cx="1030.42" cy="729.33" rx="7.17" ry="12.9" fill="url(#sb)" fill-opacity="0.009"/><ellipse cx="1070.96" cy="729.39" rx="11.43" ry="11.59" fill="url(#sb)" fill-opacity="0.008"/><ellipse cx="780.31" cy="729.46" rx="11.57" ry="11.62" fill="url(#sb)" fill-opacity="0.211"/><ellipse cx="808.91" cy="729.59" rx="6.03" ry="10.55" fill="url(#sb)" fill-opacity="0.015"/><ellipse cx="821.21" cy="729.52" rx="7.24" ry="12.9" fill="url(#sb)" fill-opacity="0.065"/><ellipse cx="838.27" cy="729.67" rx="11.64" ry="11.62" fill="url(#sb)" fill-opacity="0.904"/><ellipse cx="955.03" cy="729.67" rx="11.64" ry="11.62" fill="url(#sb)" fill-opacity="0.904"/><ellipse cx="972.09" cy="729.52" rx="7.24" ry="12.9" fill="url(#sb)" fill-opacity="0.065"/><ellipse cx="984.39" cy="729.59" rx="6.03" ry="10.55" fill="url(#sb)" fill-opacity="0.015"/><ellipse cx="1012.99" cy="729.46" rx="11.57" ry="11.62" fill="url(#sb)" fill-opacity="0.211"/><ellipse cx="855.09" cy="729.76" rx="7.31" ry="12.9" fill="url(#sb)" fill-opacity="0.092"/><ellipse cx="867.36" cy="729.88" rx="6.03" ry="10.52" fill="url(#sb)" fill-opacity="0.028"/><ellipse cx="879.64" cy="729.98" rx="7.31" ry="12.83" fill="url(#sb)" fill-opacity="0.093"/><ellipse cx="896.65" cy="730.02" rx="11.7" ry="11.59" fill="url(#sb)" fill-opacity="1.000"/><ellipse cx="913.66" cy="729.98" rx="7.31" ry="12.83" fill="url(#sb)" fill-opacity="0.093"/><ellipse cx="925.94" cy="729.88" rx="6.03" ry="10.52" fill="url(#sb)" fill-opacity="0.028"/><ellipse cx="938.21" cy="729.76" rx="7.31" ry="12.9" fill="url(#sb)" fill-opacity="0.092"/><ellipse cx="780.52" cy="746.63" rx="12.85" ry="7.23" fill="url(#sb)" fill-opacity="0.013"/><ellipse cx="838.42" cy="746.71" rx="12.92" ry="7.23" fill="url(#sb)" fill-opacity="0.065"/><ellipse cx="867.42" cy="746.71" rx="9.21" ry="9.1" fill="url(#sb)" fill-opacity="0.008"/><ellipse cx="896.65" cy="746.79" rx="12.95" ry="7.23" fill="url(#sb)" fill-opacity="0.089"/><ellipse cx="925.88" cy="746.71" rx="9.21" ry="9.1" fill="url(#sb)" fill-opacity="0.008"/><ellipse cx="954.88" cy="746.71" rx="12.92" ry="7.23" fill="url(#sb)" fill-opacity="0.065"/><ellipse cx="1012.78" cy="746.63" rx="12.85" ry="7.23" fill="url(#sb)" fill-opacity="0.013"/><ellipse cx="838.35" cy="758.99" rx="10.56" ry="6.02" fill="url(#sb)" fill-opacity="0.015"/><ellipse cx="855.2" cy="758.85" rx="9.25" ry="9.17" fill="url(#sb)" fill-opacity="0.006"/><ellipse cx="879.69" cy="758.9" rx="9.18" ry="9.17" fill="url(#sb)" fill-opacity="0.007"/><ellipse cx="896.65" cy="759.03" rx="10.6" ry="6.02" fill="url(#sb)" fill-opacity="0.023"/><ellipse cx="913.61" cy="758.9" rx="9.18" ry="9.17" fill="url(#sb)" fill-opacity="0.007"/><ellipse cx="938.1" cy="758.85" rx="9.25" ry="9.17" fill="url(#sb)" fill-opacity="0.006"/><ellipse cx="954.95" cy="758.99" rx="10.56" ry="6.02" fill="url(#sb)" fill-opacity="0.015"/><ellipse cx="867.46" cy="771.05" rx="9.21" ry="9.27" fill="url(#sb)" fill-opacity="0.005"/><ellipse cx="925.84" cy="771.05" rx="9.21" ry="9.27" fill="url(#sb)" fill-opacity="0.005"/><ellipse cx="780.58" cy="771.09" rx="12.85" ry="7.37" fill="url(#sb)" fill-opacity="0.006"/><ellipse cx="838.52" cy="771.15" rx="12.92" ry="7.33" fill="url(#sb)" fill-opacity="0.035"/><ellipse cx="896.65" cy="771.19" rx="12.95" ry="7.3" fill="url(#sb)" fill-opacity="0.058"/><ellipse cx="954.78" cy="771.15" rx="12.92" ry="7.33" fill="url(#sb)" fill-opacity="0.035"/><ellipse cx="1012.72" cy="771.09" rx="12.85" ry="7.37" fill="url(#sb)" fill-opacity="0.006"/><ellipse cx="796.8" cy="787.3" rx="7.38" ry="12.83" fill="url(#sb)" fill-opacity="0.006"/><ellipse cx="996.5" cy="787.3" rx="7.38" ry="12.83" fill="url(#sb)" fill-opacity="0.006"/><ellipse cx="780.41" cy="787.46" rx="11.57" ry="11.55" fill="url(#sb)" fill-opacity="0.032"/><ellipse cx="821.28" cy="787.35" rx="7.24" ry="12.83" fill="url(#sb)" fill-opacity="0.013"/><ellipse cx="838.48" cy="787.57" rx="11.64" ry="11.55" fill="url(#sb)" fill-opacity="0.211"/><ellipse cx="855.18" cy="787.43" rx="7.34" ry="12.83" fill="url(#sb)" fill-opacity="0.026"/><ellipse cx="879.69" cy="787.47" rx="7.27" ry="12.83" fill="url(#sb)" fill-opacity="0.033"/><ellipse cx="913.61" cy="787.47" rx="7.27" ry="12.83" fill="url(#sb)" fill-opacity="0.033"/><ellipse cx="938.12" cy="787.43" rx="7.34" ry="12.83" fill="url(#sb)" fill-opacity="0.026"/><ellipse cx="954.82" cy="787.57" rx="11.64" ry="11.55" fill="url(#sb)" fill-opacity="0.211"/><ellipse cx="972.02" cy="787.35" rx="7.24" ry="12.83" fill="url(#sb)" fill-opacity="0.013"/><ellipse cx="1012.89" cy="787.46" rx="11.57" ry="11.55" fill="url(#sb)" fill-opacity="0.032"/><ellipse cx="867.41" cy="787.74" rx="5.99" ry="10.48" fill="url(#sb)" fill-opacity="0.009"/><ellipse cx="896.65" cy="787.64" rx="11.64" ry="11.55" fill="url(#sb)" fill-opacity="0.372"/><ellipse cx="925.89" cy="787.74" rx="5.99" ry="10.48" fill="url(#sb)" fill-opacity="0.009"/><ellipse cx="838.6" cy="804.98" rx="12.92" ry="7.16" fill="url(#sb)" fill-opacity="0.009"/><ellipse cx="896.65" cy="805" rx="12.95" ry="7.16" fill="url(#sb)" fill-opacity="0.016"/><ellipse cx="954.7" cy="804.98" rx="12.92" ry="7.16" fill="url(#sb)" fill-opacity="0.009"/><ellipse cx="896.65" cy="829.42" rx="12.95" ry="7.33" fill="url(#sb)" fill-opacity="0.004"/><ellipse cx="838.55" cy="845.47" rx="11.6" ry="11.42" fill="url(#sb)" fill-opacity="0.008"/><ellipse cx="896.65" cy="845.5" rx="11.64" ry="11.45" fill="url(#sb)" fill-opacity="0.016"/><ellipse cx="954.75" cy="845.47" rx="11.6" ry="11.42" fill="url(#sb)" fill-opacity="0.008"/><ellipse cx="843.28" cy="548.17" rx="20.09" ry="6.92" fill="url(#sb)" fill-opacity="0.007"/><ellipse cx="950.02" cy="548.17" rx="20.09" ry="6.92" fill="url(#sb)" fill-opacity="0.007"/><ellipse cx="832.85" cy="548.78" rx="19.39" ry="8.99" fill="url(#sb)" fill-opacity="0.008"/><ellipse cx="891.13" cy="548.78" rx="20.78" ry="7.61" fill="url(#sb)" fill-opacity="0.013"/><ellipse cx="902.17" cy="548.78" rx="20.78" ry="7.61" fill="url(#sb)" fill-opacity="0.013"/><ellipse cx="960.45" cy="548.78" rx="19.39" ry="8.99" fill="url(#sb)" fill-opacity="0.008"/><ellipse cx="831.62" cy="560.43" rx="6.23" ry="8.3" fill="url(#sb)" fill-opacity="0.005"/><ellipse cx="889.9" cy="560.43" rx="6.23" ry="6.23" fill="url(#sb)" fill-opacity="0.006"/><ellipse cx="903.4" cy="560.43" rx="6.23" ry="6.23" fill="url(#sb)" fill-opacity="0.006"/><ellipse cx="961.68" cy="560.43" rx="6.23" ry="8.3" fill="url(#sb)" fill-opacity="0.005"/><ellipse cx="889.9" cy="591.68" rx="24.93" ry="6.23" fill="url(#sb)" fill-opacity="0.005"/><ellipse cx="903.4" cy="591.68" rx="24.93" ry="6.23" fill="url(#sb)" fill-opacity="0.005"/><ellipse cx="875.79" cy="605.78" rx="6.23" ry="25.6" fill="url(#sb)" fill-opacity="0.005"/><ellipse cx="917.51" cy="605.78" rx="6.23" ry="25.6" fill="url(#sb)" fill-opacity="0.005"/><ellipse cx="785.61" cy="606.39" rx="8.31" ry="6.23" fill="url(#sb)" fill-opacity="0.005"/><ellipse cx="843.89" cy="606.39" rx="8.31" ry="7.61" fill="url(#sb)" fill-opacity="0.023"/><ellipse cx="859.23" cy="606.39" rx="6.23" ry="11.76" fill="url(#sb)" fill-opacity="0.005"/><ellipse cx="890.52" cy="606.39" rx="6.93" ry="6.92" fill="url(#sb)" fill-opacity="0.022"/><ellipse cx="902.79" cy="606.39" rx="6.93" ry="6.92" fill="url(#sb)" fill-opacity="0.022"/><ellipse cx="934.07" cy="606.39" rx="6.23" ry="11.76" fill="url(#sb)" fill-opacity="0.005"/><ellipse cx="949.41" cy="606.39" rx="8.31" ry="7.61" fill="url(#sb)" fill-opacity="0.023"/><ellipse cx="1007.69" cy="606.39" rx="8.31" ry="6.23" fill="url(#sb)" fill-opacity="0.005"/><ellipse cx="832.23" cy="607" rx="8.31" ry="8.3" fill="url(#sb)" fill-opacity="0.025"/><ellipse cx="961.07" cy="607" rx="8.31" ry="8.3" fill="url(#sb)" fill-opacity="0.025"/><ellipse cx="773.95" cy="607.62" rx="9" ry="19.37" fill="url(#sb)" fill-opacity="0.008"/><ellipse cx="1019.35" cy="607.62" rx="9" ry="19.37" fill="url(#sb)" fill-opacity="0.008"/><ellipse cx="773.34" cy="618.03" rx="6.93" ry="20.06" fill="url(#sb)" fill-opacity="0.007"/><ellipse cx="1019.96" cy="618.03" rx="6.93" ry="20.06" fill="url(#sb)" fill-opacity="0.007"/><ellipse cx="831.62" cy="618.65" rx="7.62" ry="8.3" fill="url(#sb)" fill-opacity="0.023"/><ellipse cx="890.52" cy="618.65" rx="7.62" ry="7.61" fill="url(#sb)" fill-opacity="0.025"/><ellipse cx="902.79" cy="618.65" rx="7.62" ry="7.61" fill="url(#sb)" fill-opacity="0.025"/><ellipse cx="961.68" cy="618.65" rx="7.62" ry="8.3" fill="url(#sb)" fill-opacity="0.023"/><ellipse cx="844.5" cy="619.26" rx="6.23" ry="6.23" fill="url(#sb)" fill-opacity="0.016"/><ellipse cx="875.79" cy="619.26" rx="5.54" ry="12.45" fill="url(#sb)" fill-opacity="0.005"/><ellipse cx="917.51" cy="619.26" rx="5.54" ry="12.45" fill="url(#sb)" fill-opacity="0.005"/><ellipse cx="948.8" cy="619.26" rx="6.23" ry="6.23" fill="url(#sb)" fill-opacity="0.016"/><ellipse cx="859.23" cy="619.87" rx="5.54" ry="11.76" fill="url(#sb)" fill-opacity="0.005"/><ellipse cx="934.07" cy="619.87" rx="5.54" ry="11.76" fill="url(#sb)" fill-opacity="0.005"/><ellipse cx="831.62" cy="633.97" rx="11.77" ry="6.23" fill="url(#sb)" fill-opacity="0.005"/><ellipse cx="845.12" cy="633.97" rx="11.77" ry="5.53" fill="url(#sb)" fill-opacity="0.005"/><ellipse cx="948.18" cy="633.97" rx="11.77" ry="5.53" fill="url(#sb)" fill-opacity="0.005"/><ellipse cx="961.68" cy="633.97" rx="11.77" ry="6.23" fill="url(#sb)" fill-opacity="0.005"/><ellipse cx="831.01" cy="650.51" rx="25.63" ry="6.23" fill="url(#sb)" fill-opacity="0.005"/><ellipse cx="844.5" cy="650.51" rx="12.47" ry="5.53" fill="url(#sb)" fill-opacity="0.005"/><ellipse cx="948.8" cy="650.51" rx="12.47" ry="5.53" fill="url(#sb)" fill-opacity="0.005"/><ellipse cx="962.29" cy="650.51" rx="25.63" ry="6.23" fill="url(#sb)" fill-opacity="0.005"/><ellipse cx="785.61" cy="664.61" rx="6.23" ry="6.23" fill="url(#sb)" fill-opacity="0.006"/><ellipse cx="816.9" cy="664.61" rx="6.23" ry="24.91" fill="url(#sb)" fill-opacity="0.005"/><ellipse cx="976.41" cy="664.61" rx="6.23" ry="24.91" fill="url(#sb)" fill-opacity="0.005"/><ellipse cx="1007.69" cy="664.61" rx="6.23" ry="6.23" fill="url(#sb)" fill-opacity="0.006"/><ellipse cx="831.62" cy="665.22" rx="6.93" ry="6.92" fill="url(#sb)" fill-opacity="0.022"/><ellipse cx="843.89" cy="665.22" rx="7.62" ry="7.61" fill="url(#sb)" fill-opacity="0.025"/><ellipse cx="949.41" cy="665.22" rx="7.62" ry="7.61" fill="url(#sb)" fill-opacity="0.025"/><ellipse cx="961.68" cy="665.22" rx="6.93" ry="6.92" fill="url(#sb)" fill-opacity="0.022"/><ellipse cx="773.95" cy="665.83" rx="7.62" ry="20.76" fill="url(#sb)" fill-opacity="0.013"/><ellipse cx="1019.35" cy="665.83" rx="7.62" ry="20.76" fill="url(#sb)" fill-opacity="0.013"/><ellipse cx="773.95" cy="676.87" rx="7.62" ry="20.76" fill="url(#sb)" fill-opacity="0.013"/><ellipse cx="1019.35" cy="676.87" rx="7.62" ry="20.76" fill="url(#sb)" fill-opacity="0.013"/><ellipse cx="831.62" cy="677.48" rx="6.93" ry="6.92" fill="url(#sb)" fill-opacity="0.022"/><ellipse cx="843.89" cy="677.48" rx="7.62" ry="7.61" fill="url(#sb)" fill-opacity="0.025"/><ellipse cx="949.41" cy="677.48" rx="7.62" ry="7.61" fill="url(#sb)" fill-opacity="0.025"/><ellipse cx="961.68" cy="677.48" rx="6.93" ry="6.92" fill="url(#sb)" fill-opacity="0.022"/><ellipse cx="785.61" cy="678.09" rx="6.23" ry="6.23" fill="url(#sb)" fill-opacity="0.006"/><ellipse cx="816.9" cy="678.09" rx="6.23" ry="24.91" fill="url(#sb)" fill-opacity="0.005"/><ellipse cx="976.41" cy="678.09" rx="6.23" ry="24.91" fill="url(#sb)" fill-opacity="0.005"/><ellipse cx="1007.69" cy="678.09" rx="6.23" ry="6.23" fill="url(#sb)" fill-opacity="0.006"/><ellipse cx="831.01" cy="692.19" rx="25.63" ry="6.23" fill="url(#sb)" fill-opacity="0.005"/><ellipse cx="844.5" cy="692.19" rx="12.47" ry="5.53" fill="url(#sb)" fill-opacity="0.005"/><ellipse cx="948.8" cy="692.19" rx="12.47" ry="5.53" fill="url(#sb)" fill-opacity="0.005"/><ellipse cx="962.29" cy="692.19" rx="25.63" ry="6.23" fill="url(#sb)" fill-opacity="0.005"/><ellipse cx="831.62" cy="708.73" rx="11.77" ry="6.23" fill="url(#sb)" fill-opacity="0.005"/><ellipse cx="845.12" cy="708.73" rx="11.77" ry="5.53" fill="url(#sb)" fill-opacity="0.005"/><ellipse cx="948.18" cy="708.73" rx="11.77" ry="5.53" fill="url(#sb)" fill-opacity="0.005"/><ellipse cx="961.68" cy="708.73" rx="11.77" ry="6.23" fill="url(#sb)" fill-opacity="0.005"/><ellipse cx="859.23" cy="722.83" rx="5.54" ry="11.76" fill="url(#sb)" fill-opacity="0.005"/><ellipse cx="934.07" cy="722.83" rx="5.54" ry="11.76" fill="url(#sb)" fill-opacity="0.005"/><ellipse cx="844.5" cy="723.44" rx="6.23" ry="6.23" fill="url(#sb)" fill-opacity="0.016"/><ellipse cx="875.79" cy="723.44" rx="5.54" ry="12.45" fill="url(#sb)" fill-opacity="0.005"/><ellipse cx="917.51" cy="723.44" rx="5.54" ry="12.45" fill="url(#sb)" fill-opacity="0.005"/><ellipse cx="948.8" cy="723.44" rx="6.23" ry="6.23" fill="url(#sb)" fill-opacity="0.016"/><ellipse cx="831.62" cy="724.05" rx="7.62" ry="8.3" fill="url(#sb)" fill-opacity="0.023"/><ellipse cx="890.52" cy="724.05" rx="7.62" ry="7.61" fill="url(#sb)" fill-opacity="0.025"/><ellipse cx="902.79" cy="724.05" rx="7.62" ry="7.61" fill="url(#sb)" fill-opacity="0.025"/><ellipse cx="961.68" cy="724.05" rx="7.62" ry="8.3" fill="url(#sb)" fill-opacity="0.023"/><ellipse cx="773.34" cy="724.67" rx="6.93" ry="20.06" fill="url(#sb)" fill-opacity="0.007"/><ellipse cx="1019.96" cy="724.67" rx="6.93" ry="20.06" fill="url(#sb)" fill-opacity="0.007"/><ellipse cx="773.95" cy="735.08" rx="9" ry="19.37" fill="url(#sb)" fill-opacity="0.008"/><ellipse cx="1019.35" cy="735.08" rx="9" ry="19.37" fill="url(#sb)" fill-opacity="0.008"/><ellipse cx="832.23" cy="735.7" rx="8.31" ry="8.3" fill="url(#sb)" fill-opacity="0.025"/><ellipse cx="961.07" cy="735.7" rx="8.31" ry="8.3" fill="url(#sb)" fill-opacity="0.025"/><ellipse cx="785.61" cy="736.31" rx="8.31" ry="6.23" fill="url(#sb)" fill-opacity="0.005"/><ellipse cx="843.89" cy="736.31" rx="8.31" ry="7.61" fill="url(#sb)" fill-opacity="0.023"/><ellipse cx="859.23" cy="736.31" rx="6.23" ry="11.76" fill="url(#sb)" fill-opacity="0.005"/><ellipse cx="890.52" cy="736.31" rx="6.93" ry="6.92" fill="url(#sb)" fill-opacity="0.022"/><ellipse cx="902.79" cy="736.31" rx="6.93" ry="6.92" fill="url(#sb)" fill-opacity="0.022"/><ellipse cx="934.07" cy="736.31" rx="6.23" ry="11.76" fill="url(#sb)" fill-opacity="0.005"/><ellipse cx="949.41" cy="736.31" rx="8.31" ry="7.61" fill="url(#sb)" fill-opacity="0.023"/><ellipse cx="1007.69" cy="736.31" rx="8.31" ry="6.23" fill="url(#sb)" fill-opacity="0.005"/><ellipse cx="875.79" cy="736.92" rx="6.23" ry="25.6" fill="url(#sb)" fill-opacity="0.005"/><ellipse cx="917.51" cy="736.92" rx="6.23" ry="25.6" fill="url(#sb)" fill-opacity="0.005"/><ellipse cx="889.9" cy="751.02" rx="24.93" ry="6.23" fill="url(#sb)" fill-opacity="0.005"/><ellipse cx="903.4" cy="751.02" rx="24.93" ry="6.23" fill="url(#sb)" fill-opacity="0.005"/><ellipse cx="831.62" cy="782.27" rx="6.23" ry="8.3" fill="url(#sb)" fill-opacity="0.005"/><ellipse cx="889.9" cy="782.27" rx="6.23" ry="6.23" fill="url(#sb)" fill-opacity="0.006"/><ellipse cx="903.4" cy="782.27" rx="6.23" ry="6.23" fill="url(#sb)" fill-opacity="0.006"/><ellipse cx="961.68" cy="782.27" rx="6.23" ry="8.3" fill="url(#sb)" fill-opacity="0.005"/><ellipse cx="832.85" cy="793.92" rx="19.39" ry="8.99" fill="url(#sb)" fill-opacity="0.008"/><ellipse cx="891.13" cy="793.92" rx="20.78" ry="7.61" fill="url(#sb)" fill-opacity="0.013"/><ellipse cx="902.17" cy="793.92" rx="20.78" ry="7.61" fill="url(#sb)" fill-opacity="0.013"/><ellipse cx="960.45" cy="793.92" rx="19.39" ry="8.99" fill="url(#sb)" fill-opacity="0.008"/><ellipse cx="843.28" cy="794.53" rx="20.09" ry="6.92" fill="url(#sb)" fill-opacity="0.007"/><ellipse cx="950.02" cy="794.53" rx="20.09" ry="6.92" fill="url(#sb)" fill-opacity="0.007"/></g></g>
<path d="M743.28 855.2v-3.0M743.28 487.5v3.0M712.6 824.56h3.0M1080.7 824.56h-3.0M896.65 855.2v-3.0M896.65 487.5v3.0M712.6 671.35h3.0M1080.7 671.35h-3.0M1050.03 855.2v-3.0M1050.03 487.5v3.0M712.6 518.14h3.0M1080.7 518.14h-3.0" stroke="#262626" stroke-width="1" stroke-opacity="0.6" fill="none"/>
<rect x="712.6" y="487.5" width="368.1" height="367.7" fill="none" stroke="#262626" stroke-width="1"/>
<rect x="1094.2" y="487.5" width="25.3" height="367.7" fill="url(#cb)" stroke="#262626" stroke-width="1"/>
<text x="1128.2" y="799.13" font-family="Liberation Sans, sans-serif" font-size="28.0" fill="#262626">100</text>
<text x="1128.2" y="734.04" font-family="Liberation Sans, sans-serif" font-size="28.0" fill="#262626">200</text>
<text x="1128.2" y="668.95" font-family="Liberation Sans, sans-serif" font-size="28.0" fill="#262626">300</text>
<text x="1128.2" y="603.86" font-family="Liberation Sans, sans-serif" font-size="28.0" fill="#262626">400</text>
<text x="1128.2" y="538.77" font-family="Liberation Sans, sans-serif" font-size="28.0" fill="#262626">500</text>
<path d="M1119.5 790.11h-3.0M1119.5 725.02h-3.0M1119.5 659.93h-3.0M1119.5 594.84h-3.0M1119.5 529.74h-3.0" stroke="#262626" stroke-width="1" stroke-opacity="0.7" fill="none"/>
<text x="742.58" y="894.5" text-anchor="middle" font-family="Liberation Sans, sans-serif" font-size="30.8" fill="#262626">-50</text>
<text x="702.7" y="834.28" text-anchor="end" font-family="Liberation Sans, sans-serif" font-size="30.8" fill="#262626">-50</text>
<text x="896.65" y="894.5" text-anchor="middle" font-family="Liberation Sans, sans-serif" font-size="30.8" fill="#262626">0</text>
<text x="702.7" y="681.08" text-anchor="end" font-family="Liberation Sans, sans-serif" font-size="30.8" fill="#262626">0</text>
<text x="1050.03" y="894.5" text-anchor="middle" font-family="Liberation Sans, sans-serif" font-size="30.8" fill="#262626">50</text>
<text x="702.7" y="527.87" text-anchor="end" font-family="Liberation Sans, sans-serif" font-size="30.8" fill="#262626">50</text>
<g transform="translate(839.5 924)"><text x="-0.5" y="0" font-family="Liberation Sans, sans-serif" font-size="31.4" fill="#262626">y axis (</text><path transform="scale(1.01)" d="M100.4 7.3L104.9-12.1M104.3-9.2L103.2-4.2C102.5-0.8 104.2 0.4 106.4 0.4C109.4 0.4 111.9-3 113.2-7.2M114.7-12.1L112.6-2.6C112.2-0.4 113.3 0.4 114.4 0.4C115.7 0.4 116.5-1.4 116.9-3.2" fill="none" stroke="#262626" stroke-width="1.5" stroke-linecap="round" stroke-linejoin="round"/><text x="119.42" y="0" font-family="Liberation Sans, sans-serif" font-size="31.4" fill="#262626">m<tspan dx="1.8">)</tspan></text></g>
<g transform="translate(660.5 745.5) rotate(-90)"><text x="-0.5" y="0" font-family="Liberation Sans, sans-serif" font-size="31.4" fill="#262626">z axis (</text><path transform="scale(1.01)" d="M100.4 7.3L104.9-12.1M104.3-9.2L103.2-4.2C102.5-0.8 104.2 0.4 106.4 0.4C109.4 0.4 111.9-3 113.2-7.2M114.7-12.1L112.6-2.6C112.2-0.4 113.3 0.4 114.4 0.4C115.7 0.4 116.5-1.4 116.9-3.2" fill="none" stroke="#262626" stroke-width="1.5" stroke-linecap="round" stroke-linejoin="round"/><text x="119.42" y="0" font-family="Liberation Sans, sans-serif" font-size="31.4" fill="#262626">m<tspan dx="1.8">)</tspan></text></g>
<text transform="translate(726.11 530.35) scale(0.2736 0.4439)" font-family="Liberation Sans, sans-serif" font-size="100" fill="#fff" stroke="#fff" stroke-width="3.0" text-rendering="geometricPrecision">(</text>
<text transform="translate(739.11 531.77) scale(0.4416 0.4552)" font-family="Liberation Sans, sans-serif" font-size="100" fill="#fff" stroke="#fff" stroke-width="1.2" text-rendering="geometricPrecision">d</text>
<text transform="translate(768.09 530.35) scale(0.2939 0.4439)" font-family="Liberation Sans, sans-serif" font-size="100" fill="#fff" stroke="#fff" stroke-width="3.0" text-rendering="geometricPrecision">)</text></svg></body></html>
